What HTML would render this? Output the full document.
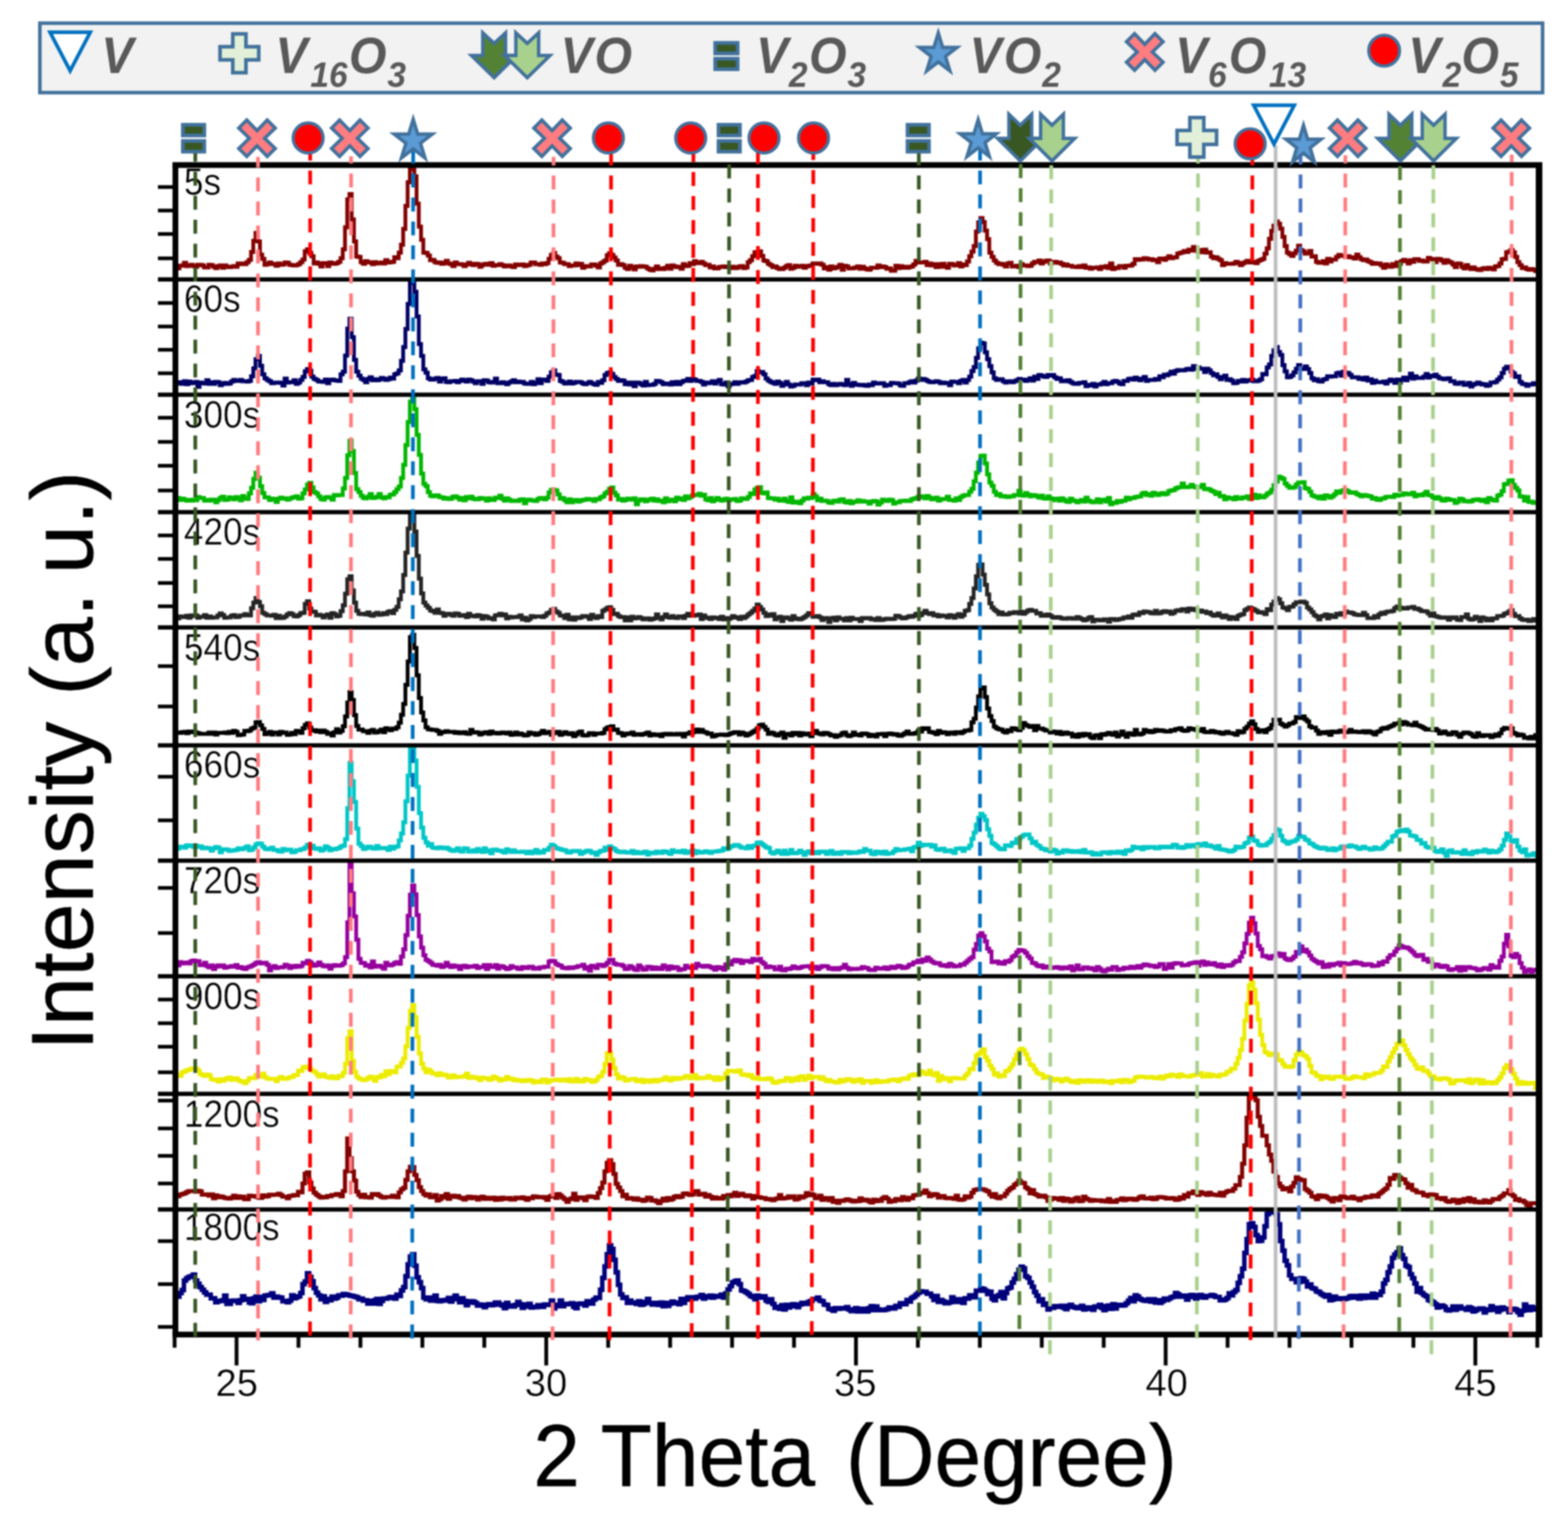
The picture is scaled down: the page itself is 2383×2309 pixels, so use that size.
<!DOCTYPE html>
<html lang="en"><head><meta charset="utf-8"><title>XRD patterns of vanadium oxide phases versus time</title>
<style>html,body{margin:0;padding:0;background:#fff}body{width:2383px;height:2309px;overflow:hidden}svg{display:block}text{font-family:"Liberation Sans",sans-serif}</style>
</head><body>
<svg width="2383" height="2309" viewBox="0 0 2383 2309">
<defs><filter id="soft" x="0" y="0" width="2383" height="2309" filterUnits="userSpaceOnUse" color-interpolation-filters="sRGB"><feGaussianBlur stdDeviation="0.9"/></filter></defs>
<rect width="2383" height="2309" fill="#fff"/>
<g filter="url(#soft)">
<rect width="2383" height="2309" fill="#fff"/>
<g id="legend">
<rect x="60.6" y="35.2" width="2283.8" height="105.6" fill="#f2f2f2" stroke="#41719c" stroke-width="5.4"/>
<polygon points="76,49 137.2,49 106.6,107.6" fill="#fff" stroke="#0070c0" stroke-width="5.5" stroke-linejoin="miter"/>
<polygon points="353.8,51.6 373.8,51.6 373.8,71 393.2,71 393.2,91 373.8,91 373.8,110.4 353.8,110.4 353.8,91 334.4,91 334.4,71 353.8,71" fill="#e2f0d9" stroke="#41719c" stroke-width="5.5" stroke-linejoin="miter"/>
<polygon points="733.7,50 751,66 768.3,50 768.3,84.3 785.5,84.3 751,118 716.5,84.3 733.7,84.3" fill="#548235" stroke="#41719c" stroke-width="5.2" stroke-linejoin="miter"/>
<polygon points="784,50 801.3,66 818.6,50 818.6,84.3 835.8,84.3 801.3,118 766.8,84.3 784,84.3" fill="#a9d18e" stroke="#41719c" stroke-width="5.2" stroke-linejoin="miter"/>
<rect x="1087" y="65.2" width="34" height="16" fill="#385723" stroke="#41719c" stroke-width="5.6"/><rect x="1087" y="89.2" width="34" height="16" fill="#385723" stroke="#41719c" stroke-width="5.6"/>
<polygon points="1426,50.2 1432.73,72.16 1454.5,72.16 1436.89,85.74 1443.62,107.7 1426,94.13 1408.38,107.7 1415.11,85.74 1397.5,72.16 1419.27,72.16" fill="#5b9bd5" stroke="#41719c" stroke-width="5.2" stroke-linejoin="miter"/>
<polygon points="1739.8,67.4 1755.3,51.3 1767.5,63.5 1751.4,79 1767.5,94.5 1755.3,106.7 1739.8,90.6 1724.3,106.7 1712.1,94.5 1728.2,79 1712.1,63.5 1724.3,51.3" fill="#ff7c80" stroke="#41719c" stroke-width="5.2" stroke-linejoin="miter"/>
<circle cx="2103.6" cy="77" r="23.4" fill="#ff0000" stroke="#41719c" stroke-width="4.8"/>
<text transform="scale(0.94,1)" font-weight="bold" font-style="italic" fill="#595959"><tspan x="163.83" y="110.6" font-size="78">V</tspan></text>
<text transform="scale(0.94,1)" font-weight="bold" font-style="italic" fill="#595959"><tspan x="445.11" y="110.6" font-size="78">V</tspan><tspan x="501.91" y="132.4" font-size="54">16</tspan><tspan x="564.04" y="110.6" font-size="78">O</tspan><tspan x="626.38" y="132.4" font-size="54">3</tspan></text>
<text transform="scale(0.94,1)" font-weight="bold" font-style="italic" fill="#595959"><tspan x="906.28" y="110.6" font-size="78">V</tspan><tspan x="961.06" y="110.6" font-size="78">O</tspan></text>
<text transform="scale(0.94,1)" font-weight="bold" font-style="italic" fill="#595959"><tspan x="1222.23" y="110.6" font-size="78">V</tspan><tspan x="1275.43" y="132.4" font-size="54">2</tspan><tspan x="1308.09" y="110.6" font-size="78">O</tspan><tspan x="1370.21" y="132.4" font-size="54">3</tspan></text>
<text transform="scale(0.94,1)" font-weight="bold" font-style="italic" fill="#595959"><tspan x="1567.45" y="110.6" font-size="78">V</tspan><tspan x="1622.98" y="110.6" font-size="78">O</tspan><tspan x="1685" y="132.4" font-size="54">2</tspan></text>
<text transform="scale(0.94,1)" font-weight="bold" font-style="italic" fill="#595959"><tspan x="1900" y="110.6" font-size="78">V</tspan><tspan x="1953.3" y="132.4" font-size="54">6</tspan><tspan x="1986.7" y="110.6" font-size="78">O</tspan><tspan x="2051.6" y="132.4" font-size="54">13</tspan></text>
<text transform="scale(0.94,1)" font-weight="bold" font-style="italic" fill="#595959"><tspan x="2276.81" y="110.6" font-size="78">V</tspan><tspan x="2332.55" y="132.4" font-size="54">2</tspan><tspan x="2362.87" y="110.6" font-size="78">O</tspan><tspan x="2425.11" y="132.4" font-size="54">5</tspan></text>
</g>
<g id="curves" fill="none" stroke-width="5.8" stroke-linejoin="miter" stroke-linecap="butt">
<path d="M269.3,408.0H272.7V404.0H276.1V403.5H279.5V399.5H282.9V404.5H286.3V403.5H289.7V402.5H293.1V404.5H296.5V405.5H299.9V402.5H303.3H306.7V403.5H310.1V406.5H313.5H316.9V402.5H320.3V403.0H323.7V405.5H327.1V407.5H330.5V404.5H333.9V403.5H337.3V407.0H340.7V403.5H344.1V405.5H347.5V406.0H350.9V405.5H354.3V404.5H357.7V405.5H361.1V400.5H364.5V401.5H367.9V400.5H371.3V401.5H374.7V398.5H378.1V395.0H381.5V383.0H384.9V366.0H388.3V354.0H391.7V367.0H395.1V387.0H398.5V393.5H401.9V402.5H405.3V401.5H408.7V399.0H412.1V401.0H415.5V401.5H418.9V404.0H422.3V400.5H425.7V402.5H429.1V402.0H432.5V399.0H435.9V399.5H439.3V402.5H442.7V403.0H446.1V403.5H449.5V403.0H452.9V401.5H456.3V398.5H459.7V394.5H463.1V382.0H466.5V379.0H469.9V384.5H473.3V389.5H476.7V400.5H480.1V399.0H483.5V401.0H486.9V405.0H490.3V400.0H493.7H497.1V404.5H500.5V399.0H503.9V400.5H507.3V401.0H510.7V400.0H514.1V398.0H517.5V392.5H520.9V379.0H524.3V345.5H527.7V303.0H531.1V295.0H534.5V333.5H537.9V367.0H541.3V390.0H544.7V390.5H548.1V398.5H551.5V401.0H554.9V397.0H558.3V398.5H561.7V399.0H565.1V401.5H568.5V398.5H571.9V400.5H575.3V400.0H578.7V399.0H582.1V400.5H585.5V395.5H588.9V399.0H592.3V398.5H595.7V398.0H599.1V391.0H602.5V392.5H605.9V384.0H609.3V372.0H612.7V348.0H616.1V313.0H619.5V277.0H622.9V257.0H626.3H629.7V268.0H633.1V309.5H636.5V344.5H639.9V364.5H643.3V384.0H646.7V384.5H650.1V388.5H653.5V395.5H656.9V395.0H660.3V398.5H663.7V399.5H667.1V399.0H670.5V401.0H673.9V400.0H677.3V396.5H680.7V400.5H684.1V401.5H687.5V404.5H690.9V399.0H694.3V401.5H697.7H701.1V402.0H704.5V404.5H707.9V402.0H711.3V399.5H714.7V401.5H718.1V403.0H721.5V401.0H724.9V401.5H728.3V405.5H731.7V403.0H735.1V401.5H738.5V401.0H741.9V402.5H745.3V400.0H748.7V404.0H752.1V403.0H755.5H758.9V401.5H762.3V403.0H765.7V405.0H769.1V404.0H772.5V403.5H775.9V405.0H779.3V406.0H782.7V402.0H786.1V403.0H789.5V402.5H792.9V402.0H796.3V404.5H799.7V403.5H803.1V402.5H806.5V399.0H809.9H813.3V401.5H816.7H820.1V402.5H823.5V400.5H826.9V401.5H830.3V400.0H833.7V393.5H837.1V387.5H840.5V384.5H843.9V390.0H847.3V392.5H850.7V399.0H854.1V399.5H857.5V401.5H860.9H864.3V404.5H867.7V403.5H871.1H874.5V400.5H877.9V403.0H881.3V401.0H884.7V407.0H888.1V404.5H891.5V405.0H894.9H898.3V402.0H901.7H905.1V404.0H908.5V406.5H911.9V400.5H915.3V398.5H918.7V396.0H922.1V388.0H925.5V385.0H928.9V387.5H932.3V391.5H935.7V396.0H939.1V402.5H942.5V401.5H945.9V403.0H949.3V407.0H952.7V409.0H956.1V404.0H959.5V406.5H962.9V409.5H966.3V405.0H969.7V405.5H973.1V404.5H976.5V405.0H979.9V405.5H983.3V408.0H986.7V410.0H990.1V411.0H993.5V408.5H996.9V405.0H1000.3V409.0H1003.7V408.0H1007.1V409.0H1010.5V407.0H1013.9V404.0H1017.3V408.5H1020.7V403.5H1024.1V405.0H1027.5V406.0H1030.9V405.5H1034.3V408.5H1037.7V401.5H1041.1V404.5H1044.5V404.0H1047.9V400.0H1051.3V401.5H1054.7V397.0H1058.1V400.0H1061.5V399.5H1064.9V398.0H1068.3V400.5H1071.7V403.0H1075.1V402.5H1078.5V406.5H1081.9V405.0H1085.3V408.0H1088.7H1092.1V406.0H1095.5V405.5H1098.9V405.0H1102.3V406.0H1105.7H1109.1V407.5H1112.5V405.5H1115.9V407.5H1119.3V407.0H1122.7V405.0H1126.1V404.5H1129.5V407.5H1132.9V406.5H1136.3V398.5H1139.7V395.5H1143.1V389.5H1146.5V383.5H1149.9V383.0H1153.3V382.0H1156.7V389.0H1160.1V396.0H1163.5V397.0H1166.9V401.0H1170.3V403.0H1173.7V406.0H1177.1V405.0H1180.5V407.5H1183.9V409.0H1187.3H1190.7V407.0H1194.1V404.5H1197.5V403.0H1200.9V408.5H1204.3V407.0H1207.7V404.0H1211.1V405.5H1214.5V405.0H1217.9V404.0H1221.3V407.0H1224.7V405.0H1228.1V404.0H1231.5V403.5H1234.9V400.5H1238.3H1241.7V401.0H1245.1V400.5H1248.5V402.5H1251.9V408.0H1255.3V406.0H1258.7V410.0H1262.1V405.0H1265.5V408.0H1268.9V407.0H1272.3V405.5H1275.7V402.5H1279.1V410.0H1282.5V404.0H1285.9V405.0H1289.3V408.0H1292.7H1296.1V407.5H1299.5V406.5H1302.9V405.0H1306.3V408.5H1309.7V405.5H1313.1V408.0H1316.5V409.5H1319.9V410.0H1323.3V407.0H1326.7H1330.1H1333.5V403.5H1336.9V406.0H1340.3V405.0H1343.7V406.0H1347.1V408.5H1350.5V408.0H1353.9V411.5H1357.3H1360.7V404.0H1364.1V407.5H1367.5V404.5H1370.9V407.0H1374.3V405.5H1377.7V407.0H1381.1V406.0H1384.5V405.0H1387.9V402.0H1391.3V396.5H1394.7V399.0H1398.1H1401.5H1404.9V398.0H1408.3V403.0H1411.7V400.5H1415.1V403.5H1418.5V401.5H1421.9V406.0H1425.3V401.5H1428.7V405.5H1432.1V401.0H1435.5V405.0H1438.9V407.0H1442.3V401.0H1445.7V401.5H1449.1V403.5H1452.5V403.0H1455.9V400.0H1459.3V405.0H1462.7V402.0H1466.1V403.0H1469.5V397.5H1472.9V389.5H1476.3V382.5H1479.7V374.0H1483.1V352.0H1486.5V338.0H1489.9V331.5H1493.3V337.5H1496.7V350.5H1500.1V363.5H1503.5V384.0H1506.9V390.5H1510.3V396.0H1513.7V399.5H1517.1V401.5H1520.5V401.0H1523.9V402.5H1527.3V405.0H1530.7V400.5H1534.1V399.5H1537.5V405.0H1540.9H1544.3V404.0H1547.7V406.0H1551.1V401.5H1554.5V403.5H1557.9H1561.3V404.5H1564.7V404.0H1568.1V400.5H1571.5V398.0H1574.9V398.5H1578.3V396.0H1581.7V400.5H1585.1V398.0H1588.5V396.5H1591.9V396.0H1595.3V400.5H1598.7V398.0H1602.1H1605.5V399.5H1608.9V399.0H1612.3V401.0H1615.7V403.5H1619.1V402.0H1622.5V404.0H1625.9H1629.3V405.5H1632.7H1636.1V406.0H1639.5V404.5H1642.9V406.0H1646.3V403.5H1649.7V407.0H1653.1V406.5H1656.5V408.5H1659.9V407.0H1663.3H1666.7V406.5H1670.1V409.0H1673.5V405.5H1676.9V406.5H1680.3V404.5H1683.7V407.5H1687.1V400.5H1690.5V409.0H1693.9V407.0H1697.3V407.5H1700.7V404.5H1704.1H1707.5V407.0H1710.9V404.0H1714.3H1717.7V403.5H1721.1V401.0H1724.5V394.0H1727.9V395.0H1731.3V394.0H1734.7V394.5H1738.1V392.5H1741.5V393.0H1744.9V394.5H1748.3V394.0H1751.7V395.5H1755.1V395.0H1758.5V398.5H1761.9V393.0H1765.3H1768.7V395.0H1772.1V392.5H1775.5V389.5H1778.9V392.5H1782.3V391.5H1785.7V391.0H1789.1V385.5H1792.5V384.5H1795.9V383.5H1799.3V381.5H1802.7V383.0H1806.1V379.5H1809.5V381.0H1812.9V375.5H1816.3V380.5H1819.7V382.5H1823.1V380.0H1826.5V383.5H1829.9V379.5H1833.3V384.0H1836.7V383.5H1840.1V390.0H1843.5V392.5H1846.9V391.0H1850.3V393.5H1853.7V395.5H1857.1V403.0H1860.5V400.0H1863.9V401.0H1867.3H1870.7H1874.1V400.5H1877.5V398.0H1880.9V399.5H1884.3V403.0H1887.7V400.5H1891.1V398.5H1894.5V396.5H1897.9V399.0H1901.3H1904.7V398.0H1908.1V400.0H1911.5V396.5H1914.9V395.0H1918.3V393.5H1921.7V385.5H1925.1V377.5H1928.5V363.0H1931.9V351.0H1935.3V343.0H1938.7V336.5H1942.1V340.0H1945.5V347.5H1948.9V360.0H1952.3V374.0H1955.7V384.0H1959.1V386.5H1962.5V389.0H1965.9V385.0H1969.3V381.0H1972.7V373.5H1976.1V380.0H1979.5V382.0H1982.9V385.5H1986.3V385.0H1989.7V381.5H1993.1V390.0H1996.5V389.5H1999.9V398.0H2003.3V399.5H2006.7H2010.1V397.0H2013.5V400.5H2016.9V393.5H2020.3V397.5H2023.7V394.5H2027.1H2030.5V390.5H2033.9V387.5H2037.3V388.5H2040.7V389.0H2044.1V391.0H2047.5V389.5H2050.9V391.0H2054.3V391.5H2057.7V393.0H2061.1V387.0H2064.5V391.0H2067.9V394.0H2071.3V395.5H2074.7V394.5H2078.1V397.0H2081.5V398.5H2084.9V401.0H2088.3V400.0H2091.7V401.0H2095.1V400.5H2098.5V403.5H2101.9V407.0H2105.3V402.0H2108.7V404.5H2112.1V405.5H2115.5V401.5H2118.9V404.5H2122.3V399.0H2125.7V401.0H2129.1V397.0H2132.5V395.0H2135.9V397.0H2139.3V400.5H2142.7V395.5H2146.1V398.0H2149.5V394.0H2152.9H2156.3V396.5H2159.7V396.0H2163.1V397.5H2166.5H2169.9V392.0H2173.3V393.5H2176.7V394.5H2180.1V398.5H2183.5V393.5H2186.9V394.0H2190.3V396.0H2193.7V399.5H2197.1V395.5H2200.5V397.5H2203.9V399.0H2207.3V402.0H2210.7V406.0H2214.1V400.5H2217.5V401.0H2220.9V405.5H2224.3V408.0H2227.7V403.0H2231.1V406.5H2234.5V409.0H2237.9V406.5H2241.3V409.0H2244.7V410.0H2248.1V410.5H2251.5V408.5H2254.9V407.5H2258.3V409.0H2261.7V407.0H2265.1V408.0H2268.5V409.5H2271.9V405.0H2275.3V404.5H2278.7V400.5H2282.1V394.0H2285.5V393.5H2288.9V383.5H2292.3V382.5H2295.7V380.0H2299.1V383.5H2302.5V390.5H2305.9V398.5H2309.3V403.0H2312.7V407.5H2316.1V406.5H2319.5V409.0H2322.9V410.0H2326.3V409.0H2329.7V410.0H2333.1V412.0H2334.5" stroke="#820000"/>
<path d="M269.3,583.0H272.7V581.0H276.1V583.5H279.5V579.5H282.9V584.0H286.3V580.0H289.7V582.5H293.1V582.0H296.5V580.5H299.9V588.0H303.3V581.5H306.7V582.5H310.1V583.0H313.5V578.0H316.9V583.5H320.3V581.0H323.7V583.5H327.1V580.5H330.5V581.0H333.9V585.5H337.3V583.5H340.7V582.0H344.1V583.5H347.5V583.0H350.9V580.0H354.3V577.5H357.7V579.0H361.1H364.5V577.5H367.9V579.5H371.3H374.7V580.0H378.1V579.0H381.5V572.0H384.9V560.0H388.3V546.0H391.7V541.0H395.1V556.0H398.5V569.0H401.9V575.0H405.3V577.5H408.7V579.5H412.1V582.5H415.5V582.0H418.9V581.5H422.3H425.7V582.0H429.1V586.0H432.5V575.5H435.9V581.5H439.3V581.0H442.7H446.1V578.0H449.5V583.5H452.9V581.5H456.3V577.5H459.7V573.0H463.1V564.5H466.5V561.0H469.9V563.5H473.3V572.5H476.7V576.0H480.1V577.5H483.5V580.0H486.9H490.3V580.5H493.7V577.0H497.1V582.5H500.5V577.5H503.9V577.0H507.3V578.0H510.7V578.5H514.1V579.0H517.5V569.0H520.9V565.0H524.3V540.5H527.7V499.5H531.1V484.5H534.5V512.5H537.9V547.0H541.3V565.0H544.7V571.0H548.1V575.5H551.5V577.5H554.9V581.0H558.3V576.0H561.7V573.5H565.1V578.0H568.5V576.5H571.9V578.0H575.3V577.0H578.7V574.5H582.1V575.5H585.5V577.5H588.9V576.5H592.3V574.0H595.7V575.5H599.1V569.0H602.5V567.5H605.9V563.0H609.3V548.5H612.7V527.5H616.1V500.0H619.5V462.0H622.9V430.0H626.3V429.5H629.7V443.5H633.1V481.0H636.5V523.0H639.9V541.0H643.3V561.5H646.7V566.5H650.1V575.0H653.5V577.0H656.9H660.3V575.5H663.7V574.5H667.1V580.0H670.5V576.0H673.9V575.0H677.3V580.5H680.7V581.0H684.1V579.5H687.5H690.9V579.0H694.3V581.0H697.7V579.0H701.1V577.0H704.5V578.5H707.9V580.0H711.3V577.0H714.7V578.0H718.1V580.0H721.5V582.5H724.9V579.5H728.3H731.7V583.5H735.1V578.0H738.5V578.5H741.9V581.0H745.3V581.5H748.7V580.5H752.1V575.5H755.5V582.5H758.9H762.3V581.0H765.7V582.0H769.1V584.0H772.5V581.5H775.9V580.0H779.3V578.0H782.7V581.0H786.1V580.0H789.5V581.0H792.9V580.5H796.3V583.0H799.7V583.5H803.1H806.5V580.5H809.9V584.0H813.3V582.0H816.7V576.5H820.1V582.5H823.5V577.0H826.9H830.3V579.0H833.7V572.5H837.1V566.0H840.5V563.0H843.9V569.5H847.3V570.0H850.7V579.0H854.1V580.5H857.5V583.0H860.9V582.5H864.3V580.0H867.7V583.0H871.1V582.0H874.5V580.5H877.9H881.3V581.0H884.7V583.0H888.1V584.0H891.5V582.5H894.9V580.5H898.3V582.5H901.7V584.0H905.1V585.0H908.5V580.5H911.9V582.0H915.3V578.0H918.7V570.0H922.1V567.0H925.5V566.0H928.9V568.5H932.3V573.0H935.7V576.0H939.1V579.0H942.5V578.0H945.9V578.5H949.3V584.0H952.7V581.5H956.1V584.5H959.5V581.5H962.9V587.0H966.3V581.5H969.7V582.0H973.1V584.0H976.5V586.0H979.9V580.5H983.3V585.5H986.7V585.0H990.1H993.5V583.5H996.9V579.0H1000.3V579.5H1003.7V581.0H1007.1V584.0H1010.5V583.0H1013.9H1017.3V584.5H1020.7V581.0H1024.1V584.0H1027.5V580.5H1030.9V584.0H1034.3V581.0H1037.7V579.0H1041.1V578.5H1044.5V576.0H1047.9V579.0H1051.3V576.0H1054.7V577.0H1058.1V579.0H1061.5H1064.9V580.5H1068.3V584.5H1071.7V581.5H1075.1V582.5H1078.5V581.5H1081.9V579.5H1085.3V583.0H1088.7V580.0H1092.1V577.5H1095.5V584.0H1098.9V584.5H1102.3V581.5H1105.7V587.0H1109.1V584.0H1112.5V583.5H1115.9V581.0H1119.3V583.5H1122.7V581.5H1126.1V581.0H1129.5V581.5H1132.9V580.0H1136.3V578.0H1139.7V577.5H1143.1V573.0H1146.5V571.5H1149.9V564.0H1153.3V566.0H1156.7V565.5H1160.1V569.0H1163.5V575.5H1166.9V578.5H1170.3V580.5H1173.7V582.0H1177.1V583.5H1180.5V580.0H1183.9V582.0H1187.3V586.5H1190.7V584.0H1194.1V580.5H1197.5V584.5H1200.9V587.5H1204.3V586.5H1207.7V584.5H1211.1H1214.5H1217.9V582.5H1221.3H1224.7V585.5H1228.1V581.5H1231.5V583.0H1234.9V577.0H1238.3V578.0H1241.7V577.0H1245.1V581.0H1248.5V579.5H1251.9V581.0H1255.3H1258.7V584.0H1262.1V585.5H1265.5V583.5H1268.9V585.5H1272.3V584.5H1275.7V583.5H1279.1V584.5H1282.5V585.5H1285.9V577.5H1289.3V584.0H1292.7V586.5H1296.1V582.0H1299.5V584.5H1302.9V585.0H1306.3V585.5H1309.7V585.0H1313.1V586.0H1316.5V586.5H1319.9V584.5H1323.3V585.5H1326.7V581.5H1330.1V583.0H1333.5H1336.9V582.5H1340.3H1343.7V586.5H1347.1V585.0H1350.5V585.5H1353.9V582.0H1357.3V582.5H1360.7H1364.1V583.0H1367.5V586.0H1370.9V586.5H1374.3V582.5H1377.7H1381.1V581.0H1384.5V579.5H1387.9V581.5H1391.3V578.5H1394.7V575.5H1398.1V577.5H1401.5V576.0H1404.9V577.0H1408.3V579.0H1411.7V580.5H1415.1V581.0H1418.5V580.5H1421.9V579.5H1425.3V580.5H1428.7V582.5H1432.1V581.5H1435.5V582.5H1438.9V582.0H1442.3V585.5H1445.7V580.0H1449.1V580.5H1452.5H1455.9V582.5H1459.3V579.0H1462.7V577.5H1466.1V581.5H1469.5V577.5H1472.9V572.5H1476.3V564.0H1479.7V558.0H1483.1V544.0H1486.5V529.5H1489.9V521.0H1493.3V522.0H1496.7V535.5H1500.1V546.0H1503.5V556.5H1506.9V566.0H1510.3V575.0H1513.7V577.5H1517.1V576.5H1520.5H1523.9V579.5H1527.3V581.5H1530.7V580.0H1534.1V579.5H1537.5V581.0H1540.9V579.5H1544.3V578.0H1547.7V576.0H1551.1V577.5H1554.5V577.0H1557.9V579.0H1561.3V577.5H1564.7V575.0H1568.1V578.5H1571.5V572.5H1574.9V576.0H1578.3V570.0H1581.7V571.0H1585.1V572.5H1588.5V573.0H1591.9V570.0H1595.3V571.0H1598.7V570.0H1602.1V573.5H1605.5V576.0H1608.9V575.0H1612.3V579.5H1615.7V578.5H1619.1V579.5H1622.5V578.0H1625.9V580.5H1629.3V582.5H1632.7V583.5H1636.1H1639.5V582.0H1642.9H1646.3V581.0H1649.7V587.0H1653.1V585.0H1656.5V586.0H1659.9V583.5H1663.3V587.5H1666.7V584.5H1670.1H1673.5V583.0H1676.9V580.5H1680.3V584.0H1683.7V582.5H1687.1H1690.5V580.0H1693.9V579.0H1697.3V580.5H1700.7V583.0H1704.1V584.0H1707.5V579.0H1710.9H1714.3V576.0H1717.7V575.5H1721.1V577.0H1724.5V574.0H1727.9V576.0H1731.3V578.0H1734.7V575.5H1738.1V573.0H1741.5V579.0H1744.9V577.5H1748.3H1751.7H1755.1V576.0H1758.5V577.0H1761.9V572.0H1765.3V573.5H1768.7V569.5H1772.1V570.5H1775.5V568.5H1778.9V565.0H1782.3V568.0H1785.7V564.0H1789.1V562.5H1792.5V563.0H1795.9H1799.3V562.5H1802.7V561.0H1806.1V560.5H1809.5V562.0H1812.9V556.5H1816.3V560.5H1819.7V558.5H1823.1V560.5H1826.5H1829.9V565.5H1833.3V560.5H1836.7V563.0H1840.1V567.0H1843.5V570.5H1846.9V569.0H1850.3V573.0H1853.7V576.5H1857.1V573.5H1860.5V571.0H1863.9V577.5H1867.3V576.5H1870.7V578.5H1874.1V582.5H1877.5V582.0H1880.9V579.0H1884.3V580.0H1887.7V577.5H1891.1V580.0H1894.5V578.0H1897.9V578.5H1901.3V577.0H1904.7V579.5H1908.1H1911.5V578.5H1914.9V576.5H1918.3V568.5H1921.7V569.0H1925.1V558.5H1928.5V554.0H1931.9V541.0H1935.3V532.5H1938.7V527.5H1942.1V535.0H1945.5V539.5H1948.9V555.0H1952.3V564.5H1955.7V573.5H1959.1V573.0H1962.5V570.5H1965.9V566.0H1969.3V560.5H1972.7V555.0H1976.1V561.0H1979.5V560.5H1982.9V557.0H1986.3V561.0H1989.7V567.0H1993.1V575.0H1996.5V578.0H1999.9V576.5H2003.3V579.5H2006.7V580.0H2010.1V577.0H2013.5V576.0H2016.9V572.0H2020.3V572.5H2023.7V572.0H2027.1H2030.5V567.5H2033.9V566.5H2037.3V571.0H2040.7V565.0H2044.1V566.5H2047.5V567.0H2050.9V570.0H2054.3V573.5H2057.7H2061.1H2064.5V576.0H2067.9V574.5H2071.3V577.0H2074.7V574.0H2078.1V578.5H2081.5V576.5H2084.9V582.0H2088.3V578.5H2091.7V581.0H2095.1H2098.5H2101.9V580.0H2105.3V583.0H2108.7V579.5H2112.1V577.0H2115.5V578.5H2118.9V582.0H2122.3V577.0H2125.7V581.5H2129.1V577.0H2132.5V574.0H2135.9V578.0H2139.3V574.0H2142.7V568.0H2146.1V575.5H2149.5V572.0H2152.9V574.5H2156.3H2159.7H2163.1V572.5H2166.5V568.5H2169.9V574.0H2173.3V571.0H2176.7V572.0H2180.1V569.5H2183.5V572.5H2186.9V575.0H2190.3V575.5H2193.7V576.5H2197.1V575.5H2200.5V575.0H2203.9V579.5H2207.3H2210.7V583.0H2214.1V583.5H2217.5V581.5H2220.9H2224.3V585.0H2227.7V584.5H2231.1V582.0H2234.5V587.5H2237.9V584.5H2241.3V583.5H2244.7V581.5H2248.1V583.0H2251.5V584.5H2254.9V584.0H2258.3V586.5H2261.7V585.5H2265.1V581.5H2268.5H2271.9V580.5H2275.3V577.0H2278.7V573.5H2282.1V567.0H2285.5V560.5H2288.9V557.5H2292.3V559.0H2295.7V565.0H2299.1V567.5H2302.5V573.0H2305.9V572.0H2309.3V580.5H2312.7V583.5H2316.1V584.0H2319.5V586.5H2322.9V584.5H2326.3H2329.7V582.5H2333.1V584.0H2334.5" stroke="#000064"/>
<path d="M269.3,757.0H272.7V760.0H276.1V758.0H279.5V759.5H282.9V761.0H286.3V760.0H289.7V761.0H293.1V759.5H296.5V760.5H299.9V755.5H303.3V757.0H306.7H310.1V761.0H313.5V760.0H316.9V761.0H320.3V759.5H323.7H327.1V763.5H330.5V760.0H333.9V757.0H337.3V755.0H340.7V760.0H344.1V759.5H347.5V756.0H350.9V757.5H354.3V759.0H357.7V755.5H361.1V757.5H364.5V760.5H367.9V754.0H371.3V757.5H374.7V758.5H378.1V750.0H381.5V741.5H384.9V728.0H388.3V718.5H391.7V726.0H395.1V739.0H398.5V749.5H401.9V756.0H405.3H408.7V760.0H412.1V758.0H415.5V759.0H418.9V763.0H422.3V758.0H425.7V756.5H429.1V758.0H432.5V757.5H435.9V759.5H439.3V758.0H442.7V756.5H446.1V755.5H449.5V754.5H452.9V758.0H456.3V757.5H459.7V750.0H463.1V744.0H466.5V736.5H469.9V734.0H473.3V741.0H476.7V748.0H480.1V750.0H483.5V754.5H486.9V758.5H490.3V759.5H493.7V756.0H497.1V755.5H500.5V756.5H503.9V759.5H507.3V752.5H510.7V753.0H514.1V752.5H517.5H520.9V742.5H524.3V726.5H527.7V692.0H531.1V670.0H534.5V685.5H537.9V719.0H541.3V743.5H544.7V748.0H548.1V753.5H551.5V757.0H554.9V757.5H558.3V755.0H561.7V751.0H565.1V757.0H568.5V756.5H571.9V755.0H575.3V751.0H578.7V756.0H582.1V757.5H585.5V755.5H588.9V756.0H592.3V752.0H595.7V751.5H599.1V748.0H602.5V743.5H605.9V739.5H609.3V726.5H612.7V706.5H616.1V676.5H619.5V641.5H622.9V610.5H626.3V605.0H629.7V622.0H633.1V661.0H636.5V691.5H639.9V720.0H643.3V735.5H646.7V739.0H650.1V748.0H653.5V753.5H656.9V754.5H660.3V753.0H663.7H667.1V755.5H670.5V756.0H673.9V758.0H677.3V757.0H680.7V758.5H684.1V758.0H687.5V755.0H690.9V754.5H694.3V756.5H697.7V759.5H701.1V757.0H704.5V760.5H707.9V755.5H711.3V757.5H714.7V755.0H718.1V758.0H721.5V759.0H724.9H728.3V757.0H731.7V757.5H735.1V758.0H738.5V761.0H741.9V757.5H745.3V759.5H748.7V760.0H752.1V756.5H755.5V757.0H758.9V753.5H762.3V758.0H765.7V761.0H769.1V757.5H772.5V759.5H775.9V761.5H779.3H782.7V761.0H786.1V761.5H789.5V759.5H792.9V759.0H796.3V765.0H799.7V760.5H803.1V759.5H806.5V760.5H809.9V761.0H813.3V761.5H816.7V758.5H820.1V757.0H823.5V757.5H826.9V759.0H830.3V756.5H833.7V748.5H837.1V744.5H840.5H843.9V745.5H847.3V751.5H850.7V758.0H854.1V757.0H857.5V760.5H860.9V763.5H864.3V759.0H867.7V763.5H871.1V761.0H874.5V760.0H877.9V762.5H881.3V761.0H884.7V760.0H888.1V759.5H891.5V758.5H894.9V759.5H898.3V759.0H901.7V761.5H905.1V758.5H908.5V759.0H911.9V756.0H915.3V754.5H918.7V750.0H922.1V747.5H925.5V743.0H928.9V741.0H932.3V749.0H935.7V753.0H939.1V759.5H942.5V758.5H945.9V761.0H949.3V760.0H952.7V758.0H956.1V758.5H959.5V759.5H962.9V757.5H966.3V766.5H969.7V761.0H973.1V759.0H976.5H979.9V762.0H983.3V760.5H986.7V759.0H990.1V758.0H993.5V761.0H996.9V759.0H1000.3V761.5H1003.7V761.0H1007.1V763.5H1010.5V757.5H1013.9V762.0H1017.3V760.0H1020.7V759.5H1024.1V762.0H1027.5V756.5H1030.9V759.0H1034.3V757.5H1037.7V760.0H1041.1V754.5H1044.5V757.5H1047.9V755.5H1051.3V753.0H1054.7V752.5H1058.1H1061.5V750.5H1064.9V753.5H1068.3V752.0H1071.7V759.0H1075.1V760.5H1078.5V757.0H1081.9V762.0H1085.3V760.0H1088.7V757.0H1092.1V759.0H1095.5V761.0H1098.9V759.5H1102.3V758.0H1105.7V760.5H1109.1V759.5H1112.5V759.0H1115.9V758.5H1119.3V761.5H1122.7V761.0H1126.1V757.5H1129.5V758.5H1132.9H1136.3V755.5H1139.7V750.0H1143.1V751.0H1146.5V744.0H1149.9V741.5H1153.3V740.5H1156.7V749.0H1160.1V750.0H1163.5V748.5H1166.9V757.0H1170.3V757.5H1173.7H1177.1V759.5H1180.5V758.0H1183.9V761.0H1187.3H1190.7V758.0H1194.1V761.5H1197.5V763.0H1200.9V756.0H1204.3V764.0H1207.7V762.5H1211.1V763.5H1214.5V765.0H1217.9V761.0H1221.3V757.5H1224.7V758.0H1228.1V756.5H1231.5V757.0H1234.9V751.0H1238.3V754.5H1241.7V760.5H1245.1V758.0H1248.5V761.5H1251.9V761.0H1255.3V761.5H1258.7V764.0H1262.1V764.5H1265.5V761.5H1268.9V761.0H1272.3V762.5H1275.7V759.5H1279.1V759.0H1282.5V763.0H1285.9V764.0H1289.3V761.5H1292.7V765.0H1296.1V763.0H1299.5V762.5H1302.9V760.5H1306.3V762.5H1309.7V761.5H1313.1V762.5H1316.5H1319.9V765.5H1323.3V762.5H1326.7V761.5H1330.1V762.0H1333.5V767.0H1336.9V764.0H1340.3V759.5H1343.7V761.0H1347.1V761.5H1350.5V759.5H1353.9V760.0H1357.3V765.5H1360.7V763.5H1364.1H1367.5V761.5H1370.9H1374.3V761.0H1377.7V761.5H1381.1H1384.5V759.0H1387.9V758.0H1391.3V757.0H1394.7V755.0H1398.1V756.0H1401.5V754.5H1404.9V757.5H1408.3V754.0H1411.7V756.5H1415.1V759.0H1418.5V758.0H1421.9V756.5H1425.3V761.0H1428.7V759.0H1432.1V758.5H1435.5H1438.9V755.0H1442.3V760.0H1445.7H1449.1V761.0H1452.5V757.5H1455.9V760.0H1459.3V755.5H1462.7V753.5H1466.1V752.5H1469.5H1472.9V747.5H1476.3V743.0H1479.7V731.5H1483.1V718.5H1486.5V703.0H1489.9V693.0H1493.3V692.5H1496.7V704.5H1500.1V721.0H1503.5V733.5H1506.9V738.5H1510.3V747.5H1513.7V752.5H1517.1V751.0H1520.5V754.5H1523.9V754.0H1527.3V755.0H1530.7V755.5H1534.1V754.5H1537.5H1540.9V752.5H1544.3H1547.7V746.0H1551.1V753.0H1554.5V753.5H1557.9V749.5H1561.3V752.0H1564.7V754.5H1568.1V752.5H1571.5V753.0H1574.9V754.5H1578.3V756.5H1581.7V753.5H1585.1V757.5H1588.5V758.0H1591.9V754.5H1595.3V757.5H1598.7V760.5H1602.1V758.5H1605.5V758.0H1608.9V761.0H1612.3V757.5H1615.7V759.5H1619.1V762.0H1622.5V763.0H1625.9V758.0H1629.3V760.5H1632.7V761.5H1636.1V763.5H1639.5V761.5H1642.9V760.0H1646.3V762.5H1649.7V756.5H1653.1V761.0H1656.5V762.5H1659.9V763.5H1663.3V762.5H1666.7V759.0H1670.1V763.5H1673.5V760.5H1676.9V759.5H1680.3V762.5H1683.7V757.0H1687.1V766.5H1690.5V764.0H1693.9V764.5H1697.3V761.5H1700.7V763.0H1704.1V761.5H1707.5V761.0H1710.9V756.5H1714.3V759.0H1717.7V757.0H1721.1H1724.5V755.5H1727.9V755.0H1731.3V754.5H1734.7V750.5H1738.1V749.0H1741.5V752.5H1744.9V751.0H1748.3V753.5H1751.7V749.0H1755.1V750.5H1758.5V752.5H1761.9V750.5H1765.3V749.5H1768.7V751.5H1772.1V750.5H1775.5V746.5H1778.9V745.5H1782.3V745.0H1785.7V742.5H1789.1V741.0H1792.5V740.5H1795.9V735.0H1799.3V740.5H1802.7H1806.1V740.0H1809.5V737.0H1812.9V739.5H1816.3V741.0H1819.7V740.0H1823.1V740.5H1826.5V737.0H1829.9V743.5H1833.3V743.0H1836.7V744.0H1840.1V746.0H1843.5V747.5H1846.9V751.0H1850.3V749.0H1853.7V754.5H1857.1V754.0H1860.5V759.0H1863.9V756.0H1867.3V757.5H1870.7V757.0H1874.1V759.0H1877.5V755.5H1880.9V758.0H1884.3H1887.7V756.0H1891.1V756.5H1894.5V754.5H1897.9V758.5H1901.3V756.0H1904.7V752.0H1908.1V757.0H1911.5V753.0H1914.9V756.0H1918.3H1921.7V753.5H1925.1V750.5H1928.5V748.5H1931.9V744.5H1935.3V737.5H1938.7V732.0H1942.1V724.5H1945.5V726.0H1948.9V728.0H1952.3V735.0H1955.7V738.5H1959.1V741.5H1962.5H1965.9V740.5H1969.3V736.5H1972.7V733.5H1976.1H1979.5V733.0H1982.9V742.0H1986.3V743.0H1989.7V747.5H1993.1V753.0H1996.5V754.5H1999.9V755.5H2003.3V757.5H2006.7V754.5H2010.1V758.0H2013.5V753.0H2016.9V754.0H2020.3V756.5H2023.7V754.5H2027.1V751.5H2030.5V747.0H2033.9V749.0H2037.3V746.5H2040.7V745.0H2044.1H2047.5V747.0H2050.9V749.0H2054.3H2057.7V748.5H2061.1V751.0H2064.5V752.5H2067.9V754.5H2071.3V752.5H2074.7V753.0H2078.1V754.0H2081.5V754.5H2084.9V758.0H2088.3V757.0H2091.7V759.5H2095.1V760.0H2098.5V758.0H2101.9V757.5H2105.3V755.5H2108.7V755.0H2112.1H2115.5V755.5H2118.9V752.0H2122.3V753.5H2125.7V752.5H2129.1H2132.5V750.0H2135.9V750.5H2139.3V751.5H2142.7V751.0H2146.1V749.0H2149.5V754.5H2152.9V752.5H2156.3V752.0H2159.7V753.0H2163.1V750.5H2166.5V747.5H2169.9V752.5H2173.3V753.0H2176.7V756.0H2180.1V758.0H2183.5V755.5H2186.9V757.5H2190.3V760.5H2193.7V761.0H2197.1V758.0H2200.5V759.0H2203.9V760.0H2207.3H2210.7V764.5H2214.1V762.5H2217.5V758.0H2220.9V759.0H2224.3V762.0H2227.7V761.5H2231.1V762.5H2234.5V762.0H2237.9V760.0H2241.3V759.5H2244.7V759.0H2248.1V760.5H2251.5V761.5H2254.9V759.5H2258.3V763.5H2261.7V757.0H2265.1V759.0H2268.5V760.5H2271.9V761.0H2275.3V753.5H2278.7V752.0H2282.1V746.5H2285.5V736.0H2288.9V735.5H2292.3V730.5H2295.7V730.0H2299.1V737.0H2302.5V741.5H2305.9V745.5H2309.3V754.5H2312.7V755.0H2316.1V761.0H2319.5V755.5H2322.9V763.0H2326.3V762.5H2329.7V764.5H2333.1V764.0H2334.5" stroke="#00b600"/>
<path d="M269.3,940.0H272.7V937.0H276.1V937.5H279.5V938.0H282.9V936.0H286.3V939.0H289.7V935.5H293.1V936.5H296.5V935.5H299.9V939.0H303.3V937.5H306.7H310.1V935.0H313.5V939.0H316.9V937.0H320.3V939.0H323.7V938.5H327.1H330.5V935.5H333.9V932.5H337.3V935.0H340.7V939.0H344.1V938.5H347.5H350.9V936.0H354.3V935.0H357.7V938.0H361.1V937.5H364.5V935.5H367.9H371.3V933.5H374.7V935.0H378.1V935.5H381.5V924.5H384.9V916.0H388.3V909.0H391.7V915.0H395.1V921.5H398.5V931.5H401.9V933.5H405.3V935.5H408.7H412.1V936.0H415.5V934.5H418.9V939.5H422.3V936.0H425.7V939.5H429.1V939.0H432.5V937.0H435.9V934.0H439.3V932.0H442.7V933.5H446.1V936.5H449.5V937.0H452.9V935.0H456.3V932.0H459.7V931.5H463.1V918.0H466.5V914.0H469.9V925.0H473.3V929.5H476.7V930.0H480.1V935.5H483.5V934.5H486.9V935.5H490.3V938.5H493.7V935.5H497.1V934.0H500.5V939.0H503.9V932.0H507.3V933.5H510.7V937.0H514.1V936.0H517.5V929.0H520.9V920.0H524.3V902.5H527.7V880.5H531.1V876.0H534.5V897.5H537.9V916.0H541.3V928.5H544.7V933.0H548.1V933.5H551.5V933.0H554.9V934.0H558.3V931.0H561.7V935.0H565.1V936.0H568.5V933.0H571.9V931.5H575.3V934.5H578.7V934.0H582.1V932.0H585.5V933.5H588.9V930.0H592.3V929.0H595.7V932.0H599.1V927.0H602.5V922.5H605.9V911.0H609.3V899.0H612.7V874.0H616.1V840.0H619.5V803.5H622.9V783.0H626.3H629.7V808.0H633.1V845.0H636.5V879.5H639.9V902.0H643.3V916.0H646.7V920.5H650.1V924.0H653.5V928.0H656.9V929.0H660.3V931.5H663.7V926.5H667.1V931.5H670.5V932.0H673.9V936.0H677.3V933.5H680.7V933.0H684.1V934.5H687.5V936.0H690.9V932.5H694.3V933.0H697.7V936.0H701.1V935.5H704.5V935.0H707.9V938.0H711.3V933.0H714.7V936.5H718.1V936.0H721.5V937.0H724.9V935.0H728.3V936.0H731.7V940.5H735.1V936.5H738.5V937.5H741.9V940.0H745.3V939.5H748.7V941.5H752.1V935.5H755.5V935.0H758.9V933.0H762.3V935.5H765.7V934.0H769.1V940.0H772.5V937.5H775.9V938.5H779.3V938.0H782.7H786.1V937.5H789.5V935.5H792.9V941.5H796.3V939.0H799.7V943.0H803.1V941.0H806.5V936.5H809.9V938.0H813.3V937.0H816.7H820.1H823.5V938.0H826.9V936.0H830.3V932.5H833.7V931.0H837.1V927.0H840.5V925.5H843.9V929.5H847.3V931.5H850.7V935.5H854.1V936.0H857.5V939.5H860.9V934.5H864.3V941.5H867.7V938.5H871.1V942.0H874.5V938.5H877.9V939.5H881.3V938.5H884.7V936.5H888.1H891.5V937.5H894.9V941.0H898.3V934.5H901.7V938.0H905.1V939.5H908.5V936.5H911.9V938.0H915.3V928.5H918.7V926.5H922.1V924.0H925.5V923.0H928.9V927.0H932.3V933.5H935.7V933.0H939.1V936.5H942.5V938.0H945.9H949.3V943.0H952.7V938.5H956.1V943.0H959.5V937.5H962.9V940.0H966.3V939.5H969.7V938.0H973.1V939.5H976.5V941.5H979.9V940.5H983.3V940.0H986.7V942.0H990.1V941.0H993.5V940.0H996.9V934.0H1000.3V939.0H1003.7V941.5H1007.1V938.0H1010.5V934.0H1013.9V938.0H1017.3V939.0H1020.7V936.5H1024.1V939.0H1027.5V939.5H1030.9V937.0H1034.3H1037.7V939.5H1041.1V936.0H1044.5V933.0H1047.9V936.0H1051.3H1054.7V935.5H1058.1V935.0H1061.5V934.0H1064.9V941.0H1068.3V935.5H1071.7V938.5H1075.1V939.5H1078.5V941.0H1081.9V938.5H1085.3V939.5H1088.7V939.0H1092.1V941.0H1095.5V937.5H1098.9V941.5H1102.3V939.5H1105.7V941.0H1109.1V939.5H1112.5V936.5H1115.9V938.0H1119.3V939.0H1122.7V941.0H1126.1V937.5H1129.5V939.5H1132.9V937.0H1136.3V934.0H1139.7V931.5H1143.1V928.5H1146.5V925.0H1149.9V919.0H1153.3V922.5H1156.7V926.5H1160.1V931.5H1163.5V936.5H1166.9V934.0H1170.3V936.0H1173.7V933.5H1177.1V941.5H1180.5V939.0H1183.9V937.5H1187.3V944.0H1190.7V939.0H1194.1V938.5H1197.5V940.0H1200.9V942.0H1204.3V936.5H1207.7V940.0H1211.1V941.0H1214.5V941.5H1217.9V940.0H1221.3V938.0H1224.7V935.5H1228.1V932.0H1231.5V933.0H1234.9V937.5H1238.3V937.0H1241.7V936.5H1245.1V938.5H1248.5V942.5H1251.9V940.0H1255.3V939.5H1258.7V945.5H1262.1V940.5H1265.5V939.0H1268.9V943.0H1272.3V938.5H1275.7V940.5H1279.1H1282.5V943.0H1285.9V939.5H1289.3V943.0H1292.7V939.0H1296.1V941.0H1299.5H1302.9H1306.3V944.0H1309.7V939.5H1313.1V940.0H1316.5V939.5H1319.9H1323.3V941.5H1326.7V941.0H1330.1V942.5H1333.5V939.5H1336.9V942.5H1340.3V942.0H1343.7V941.0H1347.1V940.5H1350.5V941.0H1353.9H1357.3V940.5H1360.7V936.0H1364.1V936.5H1367.5V938.5H1370.9V940.0H1374.3V939.5H1377.7V938.0H1381.1V936.5H1384.5V937.5H1387.9V936.0H1391.3V933.0H1394.7V936.0H1398.1V935.0H1401.5V932.0H1404.9V928.5H1408.3V932.0H1411.7V933.5H1415.1V932.0H1418.5V935.5H1421.9V934.5H1425.3V937.0H1428.7V935.5H1432.1V936.0H1435.5V936.5H1438.9V938.5H1442.3V935.0H1445.7V936.5H1449.1V939.0H1452.5V935.5H1455.9V933.5H1459.3V937.5H1462.7V935.0H1466.1V928.5H1469.5V927.5H1472.9V918.0H1476.3V909.0H1479.7V894.5H1483.1V876.0H1486.5V858.5H1489.9V858.0H1493.3V873.5H1496.7V889.0H1500.1V903.5H1503.5V917.0H1506.9V923.5H1510.3V927.0H1513.7V929.5H1517.1V933.5H1520.5V931.0H1523.9V934.0H1527.3H1530.7V933.5H1534.1V931.5H1537.5V932.0H1540.9V930.5H1544.3H1547.7V932.5H1551.1V930.0H1554.5V933.0H1557.9V930.5H1561.3V928.0H1564.7V927.0H1568.1V928.5H1571.5H1574.9V932.5H1578.3V932.0H1581.7V936.0H1585.1V934.5H1588.5V936.0H1591.9V934.0H1595.3V936.0H1598.7V938.5H1602.1V939.0H1605.5V938.0H1608.9V938.5H1612.3V940.0H1615.7V940.5H1619.1H1622.5V939.5H1625.9H1629.3V940.5H1632.7H1636.1V938.0H1639.5V939.5H1642.9V941.0H1646.3V943.0H1649.7V942.0H1653.1V939.5H1656.5V938.0H1659.9V944.5H1663.3V942.0H1666.7H1670.1V943.0H1673.5H1676.9V941.5H1680.3V942.0H1683.7V945.0H1687.1V941.0H1690.5H1693.9V942.5H1697.3V942.0H1700.7V941.0H1704.1V940.5H1707.5V938.5H1710.9V939.0H1714.3V937.0H1717.7V939.0H1721.1V934.5H1724.5V934.0H1727.9V935.0H1731.3V931.0H1734.7V932.0H1738.1V929.5H1741.5V930.0H1744.9V930.5H1748.3V932.0H1751.7V932.5H1755.1V928.5H1758.5V932.5H1761.9V932.0H1765.3V930.0H1768.7V929.0H1772.1V930.5H1775.5V929.5H1778.9V933.0H1782.3V931.5H1785.7V928.5H1789.1V927.5H1792.5V928.5H1795.9V926.0H1799.3H1802.7V929.5H1806.1V925.0H1809.5V927.0H1812.9V925.5H1816.3V927.5H1819.7V929.0H1823.1V928.0H1826.5V930.0H1829.9V929.5H1833.3V932.0H1836.7V931.0H1840.1V934.0H1843.5V936.0H1846.9V935.0H1850.3V932.5H1853.7V936.0H1857.1V938.5H1860.5V935.5H1863.9V937.5H1867.3V941.0H1870.7V938.0H1874.1V939.0H1877.5V941.0H1880.9V936.0H1884.3V934.5H1887.7V933.5H1891.1V927.5H1894.5V925.5H1897.9V923.5H1901.3V925.0H1904.7V926.5H1908.1V928.5H1911.5V931.0H1914.9V930.5H1918.3V931.5H1921.7V933.5H1925.1V926.0H1928.5V927.5H1931.9V919.0H1935.3V914.5H1938.7V909.0H1942.1V911.0H1945.5V917.0H1948.9V923.5H1952.3V924.5H1955.7V927.5H1959.1V922.5H1962.5V922.0H1965.9V918.5H1969.3V915.5H1972.7H1976.1V914.5H1979.5H1982.9V916.5H1986.3V923.5H1989.7V926.5H1993.1V930.5H1996.5V935.0H1999.9V937.0H2003.3V941.5H2006.7V937.0H2010.1V936.0H2013.5V934.0H2016.9V940.0H2020.3V935.0H2023.7V937.0H2027.1V938.0H2030.5V933.0H2033.9V934.5H2037.3V932.0H2040.7V934.5H2044.1V929.5H2047.5V931.0H2050.9H2054.3V932.0H2057.7V934.0H2061.1V934.5H2064.5V935.0H2067.9H2071.3V931.5H2074.7V935.0H2078.1V939.5H2081.5H2084.9H2088.3V936.5H2091.7V938.5H2095.1V934.0H2098.5V931.5H2101.9V933.0H2105.3V930.5H2108.7V929.5H2112.1H2115.5V928.5H2118.9V924.5H2122.3V922.0H2125.7V923.5H2129.1V924.0H2132.5V925.0H2135.9H2139.3V923.5H2142.7H2146.1V922.5H2149.5V925.5H2152.9V925.0H2156.3V927.0H2159.7V929.0H2163.1H2166.5V929.5H2169.9V932.5H2173.3V936.0H2176.7V932.5H2180.1V936.5H2183.5V937.5H2186.9V938.5H2190.3V939.0H2193.7V938.5H2197.1V939.0H2200.5V942.0H2203.9V938.5H2207.3V939.5H2210.7V938.5H2214.1V942.0H2217.5V942.5H2220.9V938.0H2224.3H2227.7V934.0H2231.1V940.5H2234.5V942.0H2237.9V941.0H2241.3V937.5H2244.7V939.5H2248.1V944.0H2251.5V938.5H2254.9V940.0H2258.3V943.0H2261.7V940.5H2265.1V943.0H2268.5V940.0H2271.9H2275.3V936.5H2278.7H2282.1V936.0H2285.5V933.0H2288.9V932.0H2292.3V929.5H2295.7V927.5H2299.1V933.0H2302.5V936.5H2305.9H2309.3V940.0H2312.7V942.0H2316.1V942.5H2319.5V942.0H2322.9V944.0H2326.3V943.5H2329.7V941.0H2333.1V943.5H2334.5" stroke="#242424"/>
<path d="M269.3,1113.5H272.7V1114.0H276.1V1113.0H279.5V1112.5H282.9V1114.5H286.3V1112.0H289.7V1113.0H293.1V1112.0H296.5V1113.5H299.9V1114.5H303.3V1115.5H306.7H310.1H313.5H316.9V1113.5H320.3V1115.5H323.7V1113.5H327.1V1116.5H330.5V1114.0H333.9H337.3H340.7V1113.5H344.1V1114.5H347.5V1112.5H350.9V1114.0H354.3V1111.0H357.7V1112.5H361.1V1117.5H364.5V1117.0H367.9V1116.5H371.3V1111.0H374.7V1111.5H378.1V1110.5H381.5V1107.5H384.9V1106.0H388.3V1098.0H391.7V1097.5H395.1V1102.5H398.5V1108.0H401.9V1116.0H405.3V1114.5H408.7V1112.5H412.1V1116.5H415.5V1113.5H418.9H422.3V1116.5H425.7V1112.5H429.1V1114.0H432.5V1113.5H435.9V1117.0H439.3V1116.5H442.7V1114.0H446.1V1116.0H449.5V1111.0H452.9V1112.0H456.3V1114.0H459.7V1107.0H463.1V1102.0H466.5V1099.5H469.9V1106.0H473.3V1110.5H476.7V1110.0H480.1V1112.0H483.5V1110.5H486.9V1113.0H490.3V1110.5H493.7V1112.5H497.1V1115.5H500.5V1114.5H503.9V1118.0H507.3V1113.0H510.7V1108.5H514.1V1113.5H517.5V1111.0H520.9V1104.0H524.3V1089.0H527.7V1068.0H531.1V1052.0H534.5V1064.0H537.9V1087.0H541.3V1103.5H544.7V1109.0H548.1H551.5V1111.5H554.9H558.3V1114.0H561.7V1111.0H565.1V1109.5H568.5V1113.5H571.9V1113.0H575.3V1111.0H578.7V1109.0H582.1V1113.0H585.5V1107.0H588.9V1108.5H592.3V1110.0H595.7V1107.5H599.1V1108.0H602.5V1105.5H605.9V1098.5H609.3V1086.5H612.7V1070.0H616.1V1041.0H619.5V1005.5H622.9V968.5H626.3V965.0H629.7V985.0H633.1V1026.5H636.5V1061.0H639.9V1083.0H643.3V1095.0H646.7V1105.5H650.1V1108.5H653.5V1109.0H656.9V1109.5H660.3H663.7V1111.0H667.1V1115.5H670.5V1113.0H673.9V1112.5H677.3V1111.5H680.7V1112.5H684.1H687.5H690.9V1114.0H694.3V1113.0H697.7V1114.5H701.1V1114.0H704.5V1113.0H707.9V1115.0H711.3V1115.5H714.7V1109.5H718.1V1113.5H721.5V1113.0H724.9V1113.5H728.3V1116.5H731.7V1115.0H735.1V1113.5H738.5V1113.0H741.9V1115.5H745.3V1112.0H748.7V1114.5H752.1V1114.0H755.5V1115.0H758.9V1114.5H762.3V1113.5H765.7V1114.0H769.1V1115.0H772.5V1113.5H775.9V1117.0H779.3V1116.0H782.7V1113.5H786.1V1116.5H789.5V1115.0H792.9V1116.5H796.3V1118.0H799.7V1117.5H803.1V1113.5H806.5V1115.5H809.9V1114.5H813.3V1117.0H816.7V1116.0H820.1V1114.0H823.5V1111.0H826.9V1114.5H830.3V1113.5H833.7V1112.5H837.1V1117.0H840.5V1112.5H843.9V1114.5H847.3V1112.5H850.7V1117.0H854.1V1115.5H857.5V1113.0H860.9V1115.0H864.3V1116.0H867.7V1114.5H871.1V1119.0H874.5V1116.5H877.9V1113.5H881.3V1112.0H884.7V1117.5H888.1V1118.0H891.5V1117.5H894.9V1114.5H898.3H901.7V1117.0H905.1V1115.0H908.5H911.9H915.3V1114.0H918.7V1108.5H922.1V1106.0H925.5V1105.0H928.9V1104.0H932.3V1109.5H935.7V1109.0H939.1V1114.0H942.5V1114.5H945.9V1118.0H949.3V1116.0H952.7V1115.0H956.1V1115.5H959.5V1113.5H962.9V1117.0H966.3V1116.0H969.7H973.1V1117.0H976.5V1116.0H979.9V1115.0H983.3V1113.5H986.7V1118.0H990.1V1116.0H993.5V1116.5H996.9V1117.5H1000.3V1116.5H1003.7V1119.0H1007.1V1116.0H1010.5V1115.5H1013.9V1116.5H1017.3V1115.5H1020.7V1116.5H1024.1H1027.5V1115.5H1030.9V1116.5H1034.3V1115.5H1037.7V1119.5H1041.1V1115.5H1044.5V1115.0H1047.9V1113.0H1051.3V1113.5H1054.7V1112.0H1058.1V1109.0H1061.5V1112.5H1064.9V1109.5H1068.3V1112.5H1071.7V1113.5H1075.1V1115.5H1078.5V1115.0H1081.9V1119.5H1085.3V1118.5H1088.7V1117.0H1092.1H1095.5V1116.5H1098.9V1117.0H1102.3V1117.5H1105.7V1116.5H1109.1V1115.0H1112.5V1114.0H1115.9V1113.0H1119.3H1122.7V1116.5H1126.1V1113.5H1129.5V1115.0H1132.9V1118.0H1136.3V1116.5H1139.7V1114.5H1143.1V1112.5H1146.5V1110.5H1149.9V1107.5H1153.3V1102.5H1156.7V1101.5H1160.1V1105.0H1163.5V1109.0H1166.9V1115.5H1170.3V1113.5H1173.7V1114.5H1177.1V1117.0H1180.5V1118.0H1183.9V1115.5H1187.3V1113.5H1190.7V1121.5H1194.1V1116.0H1197.5V1115.5H1200.9V1118.0H1204.3V1114.0H1207.7V1116.0H1211.1V1114.0H1214.5V1118.0H1217.9V1114.5H1221.3V1116.0H1224.7V1116.5H1228.1V1115.0H1231.5V1119.0H1234.9V1114.5H1238.3V1111.0H1241.7V1114.5H1245.1V1115.5H1248.5V1116.5H1251.9V1114.0H1255.3V1114.5H1258.7V1116.0H1262.1V1118.0H1265.5V1117.5H1268.9V1120.0H1272.3V1118.5H1275.7V1117.5H1279.1V1114.5H1282.5V1113.5H1285.9V1117.5H1289.3V1119.0H1292.7V1117.5H1296.1V1113.5H1299.5V1117.0H1302.9V1116.5H1306.3V1118.0H1309.7V1115.0H1313.1H1316.5V1116.0H1319.9V1119.0H1323.3V1117.0H1326.7V1118.0H1330.1V1119.5H1333.5V1116.0H1336.9H1340.3V1115.5H1343.7V1119.0H1347.1V1116.0H1350.5V1115.0H1353.9V1115.5H1357.3V1116.5H1360.7V1116.0H1364.1V1118.0H1367.5V1118.5H1370.9V1116.5H1374.3V1114.5H1377.7V1112.0H1381.1V1115.5H1384.5H1387.9V1115.0H1391.3V1114.0H1394.7V1111.0H1398.1V1112.0H1401.5V1107.0H1404.9V1108.0H1408.3V1107.0H1411.7V1112.5H1415.1V1113.0H1418.5V1114.0H1421.9V1116.0H1425.3V1111.0H1428.7V1114.0H1432.1V1113.0H1435.5V1113.5H1438.9V1116.0H1442.3V1114.0H1445.7V1113.5H1449.1V1115.5H1452.5V1113.0H1455.9H1459.3V1114.5H1462.7V1112.5H1466.1V1110.5H1469.5H1472.9V1109.5H1476.3V1098.0H1479.7V1092.5H1483.1V1075.5H1486.5V1058.5H1489.9V1046.5H1493.3V1045.0H1496.7V1059.5H1500.1V1077.0H1503.5V1088.5H1506.9V1096.0H1510.3V1104.5H1513.7V1107.0H1517.1V1108.5H1520.5V1109.0H1523.9V1112.0H1527.3V1113.5H1530.7V1110.0H1534.1V1111.5H1537.5V1107.0H1540.9V1107.5H1544.3V1109.0H1547.7V1110.0H1551.1V1106.5H1554.5V1099.0H1557.9V1102.0H1561.3V1103.5H1564.7V1105.0H1568.1V1103.5H1571.5V1110.0H1574.9V1103.5H1578.3V1107.5H1581.7H1585.1V1109.0H1588.5V1110.5H1591.9H1595.3V1113.5H1598.7V1112.0H1602.1V1112.5H1605.5V1115.0H1608.9V1112.5H1612.3V1116.0H1615.7V1114.5H1619.1V1113.5H1622.5V1115.5H1625.9V1115.0H1629.3V1119.5H1632.7V1117.0H1636.1V1120.0H1639.5V1116.0H1642.9V1118.5H1646.3V1115.5H1649.7V1117.5H1653.1V1116.0H1656.5V1120.5H1659.9V1122.0H1663.3V1118.0H1666.7V1117.5H1670.1V1122.0H1673.5V1116.0H1676.9V1117.0H1680.3V1115.5H1683.7V1114.0H1687.1V1116.0H1690.5V1117.0H1693.9V1113.5H1697.3V1119.5H1700.7V1117.0H1704.1V1112.0H1707.5V1116.5H1710.9V1120.0H1714.3V1114.5H1717.7V1115.5H1721.1V1117.0H1724.5V1109.5H1727.9V1115.5H1731.3V1116.5H1734.7V1115.0H1738.1V1109.5H1741.5V1112.5H1744.9V1111.0H1748.3V1113.0H1751.7V1112.0H1755.1V1109.5H1758.5V1111.0H1761.9V1110.0H1765.3V1110.5H1768.7V1111.5H1772.1V1112.0H1775.5H1778.9V1110.0H1782.3V1110.5H1785.7V1108.5H1789.1V1108.0H1792.5V1107.0H1795.9V1110.0H1799.3V1111.0H1802.7V1110.5H1806.1V1107.0H1809.5V1108.5H1812.9V1108.0H1816.3V1109.5H1819.7V1110.5H1823.1V1111.0H1826.5V1108.0H1829.9V1112.5H1833.3V1113.0H1836.7H1840.1V1111.0H1843.5V1112.0H1846.9V1113.5H1850.3V1113.0H1853.7V1114.5H1857.1V1115.5H1860.5V1113.5H1863.9V1112.5H1867.3V1114.5H1870.7H1874.1V1115.5H1877.5V1117.0H1880.9V1111.5H1884.3V1113.5H1887.7V1112.5H1891.1V1107.5H1894.5V1104.5H1897.9V1100.0H1901.3V1096.5H1904.7V1101.0H1908.1V1108.0H1911.5V1112.5H1914.9V1110.5H1918.3V1110.0H1921.7V1113.0H1925.1V1109.0H1928.5V1107.0H1931.9V1102.0H1935.3V1094.0H1938.7H1942.1H1945.5V1100.0H1948.9V1102.0H1952.3V1104.5H1955.7V1102.5H1959.1V1100.0H1962.5V1099.5H1965.9V1097.5H1969.3V1090.0H1972.7V1091.0H1976.1V1091.5H1979.5V1089.0H1982.9V1093.5H1986.3V1096.5H1989.7V1104.0H1993.1V1106.0H1996.5H1999.9V1110.5H2003.3V1115.5H2006.7V1113.5H2010.1V1113.0H2013.5V1114.5H2016.9V1112.5H2020.3V1117.0H2023.7V1112.0H2027.1V1113.0H2030.5H2033.9V1111.5H2037.3V1110.5H2040.7V1112.5H2044.1V1113.0H2047.5V1112.5H2050.9V1109.5H2054.3V1112.5H2057.7V1112.0H2061.1V1112.5H2064.5V1113.0H2067.9V1112.5H2071.3V1111.5H2074.7V1113.5H2078.1V1111.5H2081.5V1112.5H2084.9V1114.5H2088.3V1116.5H2091.7V1112.5H2095.1V1111.5H2098.5V1108.0H2101.9V1106.5H2105.3V1107.5H2108.7V1105.5H2112.1V1104.0H2115.5V1102.5H2118.9V1100.0H2122.3H2125.7V1098.5H2129.1V1101.0H2132.5V1097.5H2135.9V1099.0H2139.3V1101.5H2142.7H2146.1V1102.5H2149.5V1098.5H2152.9V1102.5H2156.3V1103.5H2159.7V1105.0H2163.1V1107.0H2166.5V1109.0H2169.9H2173.3V1108.5H2176.7V1109.5H2180.1V1108.0H2183.5V1110.5H2186.9V1115.0H2190.3V1114.0H2193.7V1112.0H2197.1V1114.5H2200.5V1116.5H2203.9V1116.0H2207.3V1113.0H2210.7V1113.5H2214.1V1117.0H2217.5V1120.0H2220.9V1115.5H2224.3V1113.5H2227.7H2231.1V1114.5H2234.5V1116.0H2237.9V1119.0H2241.3V1120.0H2244.7V1114.5H2248.1V1117.5H2251.5V1119.0H2254.9V1117.5H2258.3V1118.0H2261.7V1117.5H2265.1V1120.5H2268.5V1119.0H2271.9V1116.5H2275.3V1118.5H2278.7V1114.5H2282.1V1109.0H2285.5V1106.5H2288.9V1107.0H2292.3V1107.5H2295.7V1107.0H2299.1V1114.0H2302.5V1115.5H2305.9V1118.0H2309.3V1116.5H2312.7V1117.5H2316.1V1121.5H2319.5V1121.0H2322.9V1122.5H2326.3V1120.0H2329.7V1122.5H2333.1V1117.5H2334.5" stroke="#000000"/>
<path d="M269.3,1290.0H272.7V1287.0H276.1H279.5V1288.5H282.9V1285.0H286.3V1286.0H289.7V1285.0H293.1V1287.5H296.5V1285.5H299.9V1287.5H303.3V1286.5H306.7V1289.5H310.1V1288.5H313.5V1289.0H316.9V1289.5H320.3V1293.0H323.7V1289.5H327.1V1287.5H330.5V1288.5H333.9V1295.5H337.3V1291.5H340.7V1291.0H344.1V1291.5H347.5V1293.5H350.9V1293.0H354.3V1292.5H357.7V1292.0H361.1V1289.5H364.5V1291.0H367.9V1290.5H371.3V1288.5H374.7V1286.5H378.1V1292.5H381.5V1291.5H384.9V1288.0H388.3V1283.5H391.7V1282.0H395.1V1282.5H398.5V1287.0H401.9V1290.0H405.3V1291.0H408.7V1290.0H412.1V1288.5H415.5V1292.0H418.9H422.3V1294.0H425.7V1294.5H429.1V1290.5H432.5V1292.5H435.9V1291.5H439.3H442.7V1295.5H446.1V1295.0H449.5V1292.5H452.9H456.3V1291.0H459.7V1290.5H463.1V1288.0H466.5V1284.0H469.9V1286.0H473.3V1285.5H476.7V1289.5H480.1V1290.5H483.5V1289.5H486.9V1293.0H490.3V1291.5H493.7V1286.5H497.1V1288.5H500.5V1292.5H503.9V1290.5H507.3V1291.0H510.7V1290.0H514.1V1289.0H517.5V1286.5H520.9V1285.5H524.3V1275.5H527.7V1228.5H531.1V1159.5H534.5V1187.5H537.9V1219.0H541.3V1259.5H544.7V1282.5H548.1V1286.0H551.5V1290.5H554.9V1289.5H558.3V1287.0H561.7V1287.5H565.1V1289.5H568.5V1290.0H571.9V1286.0H575.3V1289.5H578.7V1289.0H582.1H585.5V1289.5H588.9V1292.0H592.3V1287.0H595.7V1290.0H599.1V1287.5H602.5V1286.5H605.9V1277.5H609.3V1267.0H612.7V1250.0H616.1V1218.0H619.5V1179.0H622.9V1138.5H626.3V1137.5H629.7V1156.0H633.1V1196.0H636.5V1236.0H639.9V1258.0H643.3V1273.5H646.7V1280.5H650.1V1285.5H653.5V1283.0H656.9V1288.5H660.3V1289.0H663.7V1289.5H667.1V1288.0H670.5V1288.5H673.9V1289.5H677.3V1288.5H680.7V1290.5H684.1V1292.5H687.5V1293.5H690.9V1292.0H694.3V1289.5H697.7V1293.5H701.1V1294.5H704.5V1289.5H707.9V1290.0H711.3V1294.5H714.7H718.1V1292.5H721.5V1294.5H724.9V1290.5H728.3V1293.0H731.7V1295.0H735.1V1289.5H738.5V1294.5H741.9V1292.5H745.3V1297.0H748.7V1291.5H752.1H755.5V1293.0H758.9H762.3V1294.5H765.7V1296.0H769.1V1291.0H772.5V1293.0H775.9V1295.0H779.3V1292.5H782.7V1295.0H786.1H789.5H792.9V1294.5H796.3V1295.0H799.7V1297.0H803.1V1294.5H806.5V1297.0H809.9V1295.0H813.3V1292.0H816.7V1296.5H820.1V1294.5H823.5V1296.0H826.9V1292.0H830.3H833.7V1288.5H837.1V1284.0H840.5V1286.0H843.9V1289.0H847.3V1290.0H850.7V1291.0H854.1V1292.0H857.5V1292.5H860.9V1295.5H864.3V1296.0H867.7V1294.0H871.1V1293.5H874.5V1294.0H877.9V1293.5H881.3V1298.0H884.7V1296.0H888.1V1294.5H891.5V1293.0H894.9V1293.5H898.3V1296.5H901.7V1296.0H905.1V1299.5H908.5V1295.5H911.9V1293.5H915.3V1293.0H918.7V1288.5H922.1V1292.0H925.5V1286.5H928.9V1289.0H932.3V1290.5H935.7V1293.5H939.1V1295.0H942.5V1295.5H945.9V1294.5H949.3V1295.5H952.7V1296.0H956.1H959.5V1293.5H962.9V1297.0H966.3V1295.0H969.7V1296.5H973.1V1297.0H976.5V1295.5H979.9V1294.5H983.3V1299.0H986.7V1296.0H990.1H993.5V1297.0H996.9V1294.5H1000.3V1296.0H1003.7V1296.5H1007.1V1294.0H1010.5V1294.5H1013.9V1296.0H1017.3V1298.0H1020.7V1292.5H1024.1V1295.0H1027.5H1030.9V1294.0H1034.3V1295.5H1037.7V1293.0H1041.1V1296.5H1044.5V1294.5H1047.9V1296.0H1051.3V1292.5H1054.7V1297.0H1058.1V1294.0H1061.5V1295.5H1064.9V1296.0H1068.3V1295.0H1071.7V1294.0H1075.1V1295.5H1078.5V1296.5H1081.9V1294.5H1085.3H1088.7V1294.0H1092.1V1293.5H1095.5V1293.0H1098.9V1289.5H1102.3V1291.0H1105.7V1290.0H1109.1V1287.0H1112.5V1286.0H1115.9V1284.5H1119.3H1122.7V1286.5H1126.1V1288.5H1129.5H1132.9V1289.5H1136.3V1286.0H1139.7V1289.0H1143.1V1286.0H1146.5V1285.0H1149.9V1281.0H1153.3V1280.5H1156.7V1283.0H1160.1V1285.5H1163.5V1288.0H1166.9V1289.0H1170.3V1295.5H1173.7V1297.5H1177.1V1295.5H1180.5V1293.0H1183.9V1296.0H1187.3V1298.0H1190.7V1293.0H1194.1V1298.0H1197.5V1297.0H1200.9V1292.0H1204.3V1297.0H1207.7H1211.1V1296.0H1214.5V1293.0H1217.9V1295.5H1221.3V1299.5H1224.7V1295.5H1228.1V1294.0H1231.5V1297.0H1234.9H1238.3V1295.0H1241.7V1297.0H1245.1V1294.5H1248.5V1295.0H1251.9V1294.5H1255.3V1298.0H1258.7V1295.5H1262.1V1293.5H1265.5V1298.0H1268.9V1297.0H1272.3V1296.0H1275.7V1298.0H1279.1V1295.0H1282.5V1295.5H1285.9V1295.0H1289.3V1297.0H1292.7V1295.5H1296.1V1296.5H1299.5H1302.9V1295.5H1306.3V1294.0H1309.7V1295.0H1313.1V1290.5H1316.5V1293.0H1319.9H1323.3V1297.5H1326.7V1298.5H1330.1V1294.5H1333.5V1297.0H1336.9V1295.0H1340.3V1297.5H1343.7V1294.5H1347.1V1298.0H1350.5V1297.0H1353.9H1357.3V1294.0H1360.7V1290.5H1364.1V1292.5H1367.5V1292.0H1370.9H1374.3V1291.0H1377.7H1381.1V1290.0H1384.5V1294.0H1387.9V1288.0H1391.3V1287.0H1394.7V1281.0H1398.1V1286.0H1401.5V1284.0H1404.9V1284.5H1408.3V1284.0H1411.7H1415.1V1287.0H1418.5V1285.0H1421.9V1291.0H1425.3V1292.0H1428.7V1290.5H1432.1V1290.0H1435.5V1294.0H1438.9V1293.5H1442.3V1292.5H1445.7V1294.5H1449.1V1296.5H1452.5V1290.0H1455.9H1459.3V1289.5H1462.7V1293.5H1466.1V1289.5H1469.5H1472.9V1285.5H1476.3V1275.0H1479.7V1265.5H1483.1V1253.5H1486.5V1243.0H1489.9V1237.0H1493.3V1240.5H1496.7V1246.5H1500.1V1260.5H1503.5V1270.5H1506.9V1281.5H1510.3V1283.5H1513.7V1286.5H1517.1V1289.5H1520.5V1291.0H1523.9H1527.3V1285.0H1530.7H1534.1V1286.0H1537.5V1281.0H1540.9V1281.5H1544.3V1275.5H1547.7V1275.0H1551.1V1272.0H1554.5V1269.5H1557.9V1268.5H1561.3H1564.7V1274.5H1568.1V1281.5H1571.5V1279.5H1574.9V1284.5H1578.3V1286.5H1581.7V1290.0H1585.1V1290.5H1588.5V1292.5H1591.9V1291.5H1595.3V1294.5H1598.7V1291.5H1602.1V1292.5H1605.5V1297.5H1608.9V1295.0H1612.3V1296.0H1615.7V1292.5H1619.1H1622.5V1294.5H1625.9V1293.5H1629.3V1295.0H1632.7V1294.0H1636.1V1295.0H1639.5V1293.5H1642.9V1295.5H1646.3V1292.0H1649.7V1296.0H1653.1H1656.5V1295.5H1659.9V1299.0H1663.3V1297.0H1666.7V1299.0H1670.1H1673.5V1296.0H1676.9V1295.5H1680.3V1296.0H1683.7V1297.5H1687.1V1295.0H1690.5V1296.5H1693.9H1697.3V1294.5H1700.7V1296.5H1704.1V1294.5H1707.5V1298.0H1710.9V1292.5H1714.3V1293.5H1717.7V1292.0H1721.1V1287.0H1724.5V1289.0H1727.9H1731.3V1288.0H1734.7V1291.0H1738.1V1287.5H1741.5V1289.0H1744.9V1287.5H1748.3V1288.0H1751.7V1287.5H1755.1V1289.5H1758.5H1761.9V1287.0H1765.3V1288.0H1768.7V1287.0H1772.1V1288.0H1775.5V1287.0H1778.9V1288.0H1782.3V1284.0H1785.7V1284.5H1789.1V1288.5H1792.5V1287.5H1795.9V1289.0H1799.3V1287.5H1802.7V1284.5H1806.1V1287.0H1809.5V1285.0H1812.9V1284.5H1816.3V1287.0H1819.7V1283.0H1823.1V1285.5H1826.5V1284.0H1829.9V1282.0H1833.3V1286.0H1836.7V1285.0H1840.1V1286.5H1843.5V1287.5H1846.9V1290.0H1850.3V1286.0H1853.7V1291.0H1857.1V1291.5H1860.5V1292.0H1863.9V1293.0H1867.3V1294.5H1870.7V1294.0H1874.1V1292.0H1877.5V1287.0H1880.9V1288.5H1884.3V1288.0H1887.7V1287.0H1891.1V1282.0H1894.5V1280.5H1897.9V1273.0H1901.3V1271.5H1904.7V1277.5H1908.1V1278.5H1911.5V1284.0H1914.9V1285.5H1918.3V1284.5H1921.7V1285.0H1925.1V1282.0H1928.5V1279.5H1931.9V1275.0H1935.3V1269.5H1938.7V1260.5H1942.1V1262.0H1945.5V1270.5H1948.9V1277.5H1952.3V1279.5H1955.7V1282.5H1959.1V1280.5H1962.5V1279.0H1965.9V1278.5H1969.3V1276.0H1972.7V1270.5H1976.1V1271.5H1979.5V1272.0H1982.9V1276.0H1986.3V1277.5H1989.7V1282.0H1993.1V1283.0H1996.5V1286.0H1999.9V1287.5H2003.3V1289.0H2006.7V1290.0H2010.1V1288.5H2013.5V1289.5H2016.9V1292.0H2020.3H2023.7V1289.5H2027.1V1292.5H2030.5V1290.5H2033.9V1290.0H2037.3V1287.0H2040.7V1286.5H2044.1H2047.5V1287.0H2050.9V1285.0H2054.3V1286.5H2057.7H2061.1V1288.5H2064.5V1290.5H2067.9V1288.5H2071.3V1287.0H2074.7V1289.5H2078.1H2081.5V1291.5H2084.9V1291.0H2088.3V1288.0H2091.7V1289.5H2095.1V1290.5H2098.5V1289.5H2101.9V1286.5H2105.3V1283.0H2108.7V1279.5H2112.1H2115.5V1271.5H2118.9V1270.0H2122.3V1264.5H2125.7V1263.0H2129.1V1262.0H2132.5V1263.5H2135.9V1261.0H2139.3V1264.0H2142.7V1270.0H2146.1V1270.5H2149.5V1271.5H2152.9V1276.5H2156.3V1277.0H2159.7V1282.5H2163.1V1281.5H2166.5V1287.0H2169.9V1288.5H2173.3H2176.7H2180.1V1293.5H2183.5V1295.0H2186.9V1293.5H2190.3V1291.0H2193.7V1296.5H2197.1V1301.0H2200.5V1293.5H2203.9V1292.5H2207.3V1296.0H2210.7H2214.1V1295.5H2217.5H2220.9V1298.0H2224.3V1292.5H2227.7V1298.0H2231.1V1296.5H2234.5V1298.5H2237.9V1294.5H2241.3V1296.0H2244.7V1293.5H2248.1V1294.5H2251.5H2254.9V1291.5H2258.3V1293.0H2261.7V1296.0H2265.1V1293.0H2268.5V1294.5H2271.9V1295.5H2275.3V1294.0H2278.7V1291.0H2282.1V1285.5H2285.5V1276.5H2288.9V1267.0H2292.3V1271.5H2295.7V1278.0H2299.1V1279.5H2302.5V1277.0H2305.9V1287.0H2309.3V1293.0H2312.7V1295.5H2316.1V1291.0H2319.5V1300.5H2322.9V1300.0H2326.3V1299.0H2329.7V1297.0H2333.1V1300.5H2334.5" stroke="#00c6c6"/>
<path d="M269.3,1467.5H272.7V1462.5H276.1V1464.5H279.5V1464.0H282.9V1463.0H286.3V1464.5H289.7V1461.0H293.1V1460.0H296.5V1461.0H299.9H303.3V1467.0H306.7H310.1V1463.5H313.5V1468.5H316.9V1470.5H320.3V1467.5H323.7V1473.0H327.1V1469.5H330.5V1467.5H333.9V1469.0H337.3V1467.5H340.7V1471.0H344.1V1470.0H347.5V1469.5H350.9V1468.5H354.3V1469.5H357.7V1467.0H361.1V1471.0H364.5V1470.0H367.9V1472.0H371.3V1473.0H374.7V1470.5H378.1V1469.5H381.5V1468.0H384.9V1466.0H388.3V1463.5H391.7V1462.5H395.1V1464.5H398.5V1464.0H401.9V1463.5H405.3V1466.5H408.7V1475.0H412.1V1470.5H415.5V1468.5H418.9V1471.5H422.3V1470.5H425.7H429.1V1470.0H432.5V1466.5H435.9V1468.0H439.3V1471.5H442.7V1468.5H446.1V1470.0H449.5V1468.0H452.9V1469.5H456.3V1468.5H459.7V1463.5H463.1V1464.5H466.5V1460.5H469.9V1462.5H473.3V1465.5H476.7V1468.0H480.1V1467.0H483.5V1463.0H486.9V1466.5H490.3V1468.5H493.7V1469.0H497.1V1467.5H500.5V1472.5H503.9V1468.5H507.3V1467.0H510.7V1468.0H514.1H517.5V1467.0H520.9V1464.5H524.3V1455.0H527.7V1402.0H531.1V1313.0H534.5V1358.0H537.9V1393.0H541.3V1428.5H544.7V1457.5H548.1V1463.5H551.5V1464.0H554.9V1468.0H558.3V1467.0H561.7V1470.5H565.1V1461.5H568.5V1469.5H571.9V1468.0H575.3H578.7V1470.0H582.1V1472.5H585.5V1463.5H588.9V1467.0H592.3V1467.5H595.7V1466.0H599.1V1463.5H602.5V1462.5H605.9V1465.0H609.3V1454.0H612.7V1443.0H616.1V1421.5H619.5V1392.0H622.9V1360.0H626.3V1346.0H629.7V1359.5H633.1V1391.0H636.5V1423.5H639.9V1440.5H643.3V1452.0H646.7V1459.0H650.1V1461.0H653.5V1463.5H656.9V1466.5H660.3V1467.0H663.7V1468.0H667.1V1466.5H670.5V1470.0H673.9V1468.5H677.3V1463.5H680.7V1467.5H684.1V1470.0H687.5V1467.5H690.9V1469.5H694.3V1468.5H697.7V1473.0H701.1V1469.0H704.5V1468.0H707.9V1470.5H711.3V1469.0H714.7V1469.5H718.1V1469.0H721.5V1468.0H724.9V1471.5H728.3V1470.0H731.7H735.1V1467.0H738.5V1473.0H741.9V1467.0H745.3V1470.0H748.7H752.1V1467.0H755.5V1472.5H758.9V1468.5H762.3V1469.0H765.7V1471.0H769.1V1473.0H772.5V1472.0H775.9V1468.5H779.3V1470.5H782.7H786.1V1472.5H789.5V1473.0H792.9V1470.0H796.3V1471.0H799.7V1471.5H803.1V1469.5H806.5H809.9V1472.5H813.3V1471.5H816.7V1472.5H820.1V1470.5H823.5H826.9V1469.5H830.3H833.7V1461.5H837.1V1460.5H840.5V1461.0H843.9V1465.0H847.3V1467.0H850.7V1468.0H854.1V1471.0H857.5V1471.5H860.9V1472.0H864.3V1470.5H867.7V1471.5H871.1V1470.5H874.5V1470.0H877.9V1468.5H881.3H884.7V1466.5H888.1V1472.5H891.5V1470.0H894.9V1475.5H898.3V1468.0H901.7V1469.5H905.1V1471.5H908.5V1466.5H911.9H915.3V1468.5H918.7V1466.5H922.1V1463.5H925.5V1459.0H928.9H932.3V1464.5H935.7V1466.0H939.1V1466.5H942.5H945.9V1468.5H949.3V1473.0H952.7V1472.5H956.1V1468.5H959.5V1470.5H962.9V1473.5H966.3V1474.5H969.7V1467.5H973.1V1470.5H976.5V1474.0H979.9V1473.5H983.3V1469.5H986.7V1470.0H990.1V1473.0H993.5V1470.5H996.9V1473.0H1000.3V1471.0H1003.7V1473.0H1007.1V1467.5H1010.5V1470.0H1013.9V1473.5H1017.3V1469.0H1020.7V1472.0H1024.1V1470.0H1027.5V1470.5H1030.9V1474.5H1034.3V1473.5H1037.7V1473.0H1041.1V1468.0H1044.5V1470.5H1047.9V1471.0H1051.3V1471.5H1054.7H1058.1V1465.0H1061.5V1468.0H1064.9V1468.5H1068.3V1469.5H1071.7V1468.0H1075.1V1468.5H1078.5V1470.0H1081.9V1471.5H1085.3V1474.0H1088.7V1470.0H1092.1V1472.0H1095.5V1470.5H1098.9V1474.0H1102.3V1466.0H1105.7V1465.5H1109.1V1466.0H1112.5V1461.0H1115.9V1459.0H1119.3V1461.5H1122.7V1459.5H1126.1V1464.0H1129.5V1461.0H1132.9V1460.5H1136.3V1461.0H1139.7V1462.5H1143.1V1457.5H1146.5V1460.0H1149.9V1459.5H1153.3V1457.5H1156.7V1462.5H1160.1V1465.0H1163.5V1470.5H1166.9V1469.0H1170.3V1470.0H1173.7H1177.1V1473.5H1180.5H1183.9V1469.5H1187.3V1474.5H1190.7V1475.0H1194.1V1472.5H1197.5V1473.0H1200.9V1472.0H1204.3V1469.0H1207.7V1470.5H1211.1V1472.0H1214.5V1471.0H1217.9V1469.5H1221.3V1469.0H1224.7H1228.1V1468.5H1231.5V1472.0H1234.9V1471.5H1238.3V1469.5H1241.7V1473.0H1245.1V1470.5H1248.5V1468.5H1251.9H1255.3V1469.0H1258.7V1472.5H1262.1V1471.5H1265.5V1473.5H1268.9V1471.5H1272.3V1473.5H1275.7V1471.5H1279.1V1470.5H1282.5V1466.5H1285.9V1471.0H1289.3V1473.5H1292.7V1472.5H1296.1V1473.0H1299.5H1302.9V1472.5H1306.3H1309.7V1470.0H1313.1V1471.0H1316.5V1471.5H1319.9V1474.0H1323.3V1474.5H1326.7H1330.1V1471.0H1333.5V1472.0H1336.9V1472.5H1340.3V1472.0H1343.7V1470.5H1347.1V1473.0H1350.5V1471.5H1353.9V1469.5H1357.3V1471.5H1360.7V1470.0H1364.1V1468.0H1367.5V1469.0H1370.9V1471.5H1374.3V1471.0H1377.7V1469.5H1381.1V1466.5H1384.5V1466.0H1387.9V1463.0H1391.3V1462.5H1394.7V1460.0H1398.1V1462.5H1401.5V1458.5H1404.9V1460.5H1408.3V1455.5H1411.7V1458.5H1415.1V1461.5H1418.5V1463.5H1421.9V1464.5H1425.3V1464.0H1428.7V1467.0H1432.1V1468.0H1435.5V1467.0H1438.9V1469.0H1442.3V1465.0H1445.7V1467.0H1449.1V1469.0H1452.5V1468.5H1455.9H1459.3V1466.0H1462.7V1466.5H1466.1V1463.5H1469.5V1460.5H1472.9V1457.5H1476.3V1455.0H1479.7V1443.5H1483.1V1435.0H1486.5V1422.0H1489.9V1418.5H1493.3V1423.0H1496.7V1431.0H1500.1V1442.0H1503.5V1446.5H1506.9V1462.5H1510.3V1462.0H1513.7V1461.5H1517.1V1464.5H1520.5V1463.0H1523.9V1465.0H1527.3V1461.0H1530.7V1462.0H1534.1V1459.5H1537.5V1454.5H1540.9V1452.5H1544.3V1447.5H1547.7V1444.0H1551.1V1444.5H1554.5V1445.5H1557.9V1448.5H1561.3V1453.5H1564.7V1457.0H1568.1V1463.5H1571.5V1464.5H1574.9V1467.5H1578.3V1469.0H1581.7V1467.5H1585.1V1471.0H1588.5V1470.0H1591.9V1469.0H1595.3V1471.5H1598.7V1471.0H1602.1V1470.5H1605.5V1470.0H1608.9V1471.5H1612.3V1472.5H1615.7V1470.5H1619.1V1471.0H1622.5V1472.0H1625.9V1469.0H1629.3V1475.0H1632.7V1472.0H1636.1V1467.5H1639.5V1473.5H1642.9H1646.3V1470.5H1649.7H1653.1V1472.5H1656.5V1471.5H1659.9V1473.0H1663.3V1475.0H1666.7V1470.0H1670.1V1472.5H1673.5V1475.5H1676.9V1476.5H1680.3V1474.5H1683.7V1472.5H1687.1V1474.0H1690.5V1470.0H1693.9H1697.3V1474.5H1700.7V1473.0H1704.1V1473.5H1707.5V1471.0H1710.9V1472.0H1714.3V1471.5H1717.7V1469.5H1721.1V1471.5H1724.5V1470.5H1727.9V1468.5H1731.3V1471.0H1734.7V1468.0H1738.1V1466.0H1741.5V1466.5H1744.9V1467.5H1748.3V1468.5H1751.7V1468.0H1755.1V1470.0H1758.5V1469.0H1761.9V1465.5H1765.3H1768.7V1473.0H1772.1V1471.0H1775.5V1465.5H1778.9V1471.0H1782.3V1465.0H1785.7V1464.0H1789.1V1464.5H1792.5H1795.9V1467.5H1799.3V1467.0H1802.7H1806.1V1465.0H1809.5V1464.0H1812.9V1463.5H1816.3V1462.5H1819.7V1468.0H1823.1V1463.0H1826.5V1461.5H1829.9V1466.5H1833.3V1463.0H1836.7V1465.5H1840.1V1466.0H1843.5V1464.0H1846.9V1467.0H1850.3V1469.0H1853.7V1466.0H1857.1V1470.0H1860.5V1468.0H1863.9V1467.0H1867.3V1468.0H1870.7V1466.5H1874.1V1463.0H1877.5V1460.5H1880.9V1461.0H1884.3V1454.5H1887.7V1447.5H1891.1V1434.0H1894.5V1419.5H1897.9V1402.5H1901.3V1395.0H1904.7V1403.5H1908.1V1419.0H1911.5V1438.0H1914.9V1443.0H1918.3V1453.5H1921.7V1453.0H1925.1V1455.0H1928.5V1457.0H1931.9V1453.5H1935.3V1453.0H1938.7V1449.0H1942.1V1449.5H1945.5V1453.5H1948.9V1450.0H1952.3V1457.0H1955.7V1459.0H1959.1V1459.5H1962.5V1457.0H1965.9V1454.0H1969.3V1447.0H1972.7H1976.1V1438.5H1979.5V1446.0H1982.9V1443.5H1986.3V1447.5H1989.7V1452.5H1993.1V1457.5H1996.5V1460.0H1999.9V1462.0H2003.3V1464.5H2006.7V1462.5H2010.1V1470.0H2013.5V1466.5H2016.9V1469.5H2020.3V1465.5H2023.7V1467.5H2027.1V1465.5H2030.5V1465.0H2033.9V1463.5H2037.3V1467.5H2040.7V1464.0H2044.1V1465.0H2047.5V1465.5H2050.9V1465.0H2054.3V1464.0H2057.7V1462.0H2061.1V1464.5H2064.5V1463.5H2067.9V1465.0H2071.3V1467.0H2074.7V1466.5H2078.1V1465.5H2081.5V1466.0H2084.9V1468.5H2088.3V1468.0H2091.7H2095.1V1463.5H2098.5V1466.0H2101.9V1461.5H2105.3V1462.0H2108.7V1456.0H2112.1V1452.0H2115.5V1451.5H2118.9V1446.5H2122.3V1442.0H2125.7V1437.0H2129.1V1438.5H2132.5V1440.5H2135.9V1440.0H2139.3V1441.5H2142.7V1444.5H2146.1V1447.5H2149.5V1451.5H2152.9V1453.5H2156.3V1452.0H2159.7V1451.5H2163.1V1459.0H2166.5V1457.5H2169.9V1462.0H2173.3H2176.7V1469.5H2180.1V1466.0H2183.5V1466.5H2186.9V1469.0H2190.3V1470.0H2193.7V1468.0H2197.1V1469.0H2200.5V1473.5H2203.9V1474.5H2207.3V1473.0H2210.7H2214.1V1470.0H2217.5V1475.5H2220.9V1470.0H2224.3V1474.5H2227.7V1470.5H2231.1V1470.0H2234.5V1471.5H2237.9H2241.3V1472.5H2244.7V1475.0H2248.1V1474.5H2251.5V1473.0H2254.9V1471.5H2258.3H2261.7V1474.0H2265.1V1467.0H2268.5V1471.0H2271.9V1469.5H2275.3V1471.0H2278.7V1460.5H2282.1V1454.0H2285.5V1434.5H2288.9V1421.0H2292.3V1438.5H2295.7V1453.0H2299.1V1455.0H2302.5V1450.0H2305.9V1453.5H2309.3V1464.0H2312.7V1471.0H2316.1V1477.5H2319.5V1475.5H2322.9V1473.5H2326.3V1477.5H2329.7V1475.0H2333.1V1474.0H2334.5" stroke="#95009c"/>
<path d="M269.3,1633.5H272.7V1635.5H276.1V1630.0H279.5V1628.5H282.9V1627.0H286.3V1626.0H289.7V1624.5H293.1V1624.0H296.5V1624.5H299.9V1627.0H303.3V1632.5H306.7V1634.0H310.1V1635.5H313.5V1633.5H316.9V1634.5H320.3V1640.5H323.7V1641.0H327.1V1641.5H330.5V1644.0H333.9V1640.5H337.3V1643.0H340.7V1641.0H344.1V1639.0H347.5V1638.0H350.9V1641.5H354.3V1639.5H357.7V1639.0H361.1V1642.0H364.5V1643.5H367.9V1644.5H371.3V1646.5H374.7V1643.0H378.1V1639.0H381.5V1638.5H384.9V1639.0H388.3V1634.0H391.7V1635.5H395.1V1636.5H398.5V1632.0H401.9V1637.5H405.3V1639.5H408.7V1640.0H412.1H415.5H418.9V1643.5H422.3V1639.5H425.7V1637.0H429.1V1639.5H432.5V1640.0H435.9V1639.0H439.3V1637.5H442.7V1637.0H446.1V1634.5H449.5V1634.0H452.9V1627.5H456.3V1628.0H459.7V1622.5H463.1V1621.5H466.5V1623.5H469.9V1624.0H473.3V1627.5H476.7V1629.0H480.1V1632.5H483.5V1636.5H486.9V1635.0H490.3V1633.0H493.7V1636.5H497.1V1637.5H500.5V1638.5H503.9V1636.0H507.3V1639.0H510.7H514.1V1635.5H517.5V1636.0H520.9V1631.0H524.3V1617.0H527.7V1578.0H531.1V1567.5H534.5V1612.5H537.9V1629.5H541.3V1636.5H544.7V1639.5H548.1V1640.5H551.5V1642.0H554.9V1641.0H558.3V1638.5H561.7V1636.5H565.1V1639.5H568.5V1643.0H571.9V1637.0H575.3V1638.0H578.7V1634.0H582.1V1636.0H585.5V1628.5H588.9V1633.0H592.3V1628.0H595.7V1629.0H599.1V1630.0H602.5V1621.5H605.9V1621.0H609.3V1615.5H612.7V1609.0H616.1V1590.5H619.5V1562.5H622.9V1536.5H626.3V1528.0H629.7V1546.0H633.1V1576.0H636.5V1601.5H639.9V1617.0H643.3V1624.5H646.7V1630.0H650.1V1626.0H653.5V1629.0H656.9V1632.0H660.3H663.7V1634.5H667.1V1631.5H670.5V1634.0H673.9V1633.5H677.3V1634.5H680.7V1638.0H684.1V1637.5H687.5V1634.5H690.9V1637.5H694.3V1637.0H697.7H701.1V1636.5H704.5V1636.0H707.9V1632.0H711.3V1638.5H714.7V1636.5H718.1V1638.5H721.5V1637.5H724.9V1639.0H728.3V1642.0H731.7V1638.0H735.1V1639.0H738.5H741.9V1641.5H745.3V1640.5H748.7V1636.5H752.1V1638.0H755.5V1640.0H758.9V1642.5H762.3V1640.5H765.7V1641.0H769.1V1637.0H772.5V1640.0H775.9V1639.5H779.3V1642.0H782.7V1641.0H786.1V1642.5H789.5V1642.0H792.9V1643.5H796.3V1642.0H799.7V1643.0H803.1V1641.5H806.5V1642.5H809.9V1645.5H813.3V1643.5H816.7V1644.0H820.1V1645.0H823.5V1641.0H826.9H830.3V1645.5H833.7V1643.5H837.1V1642.0H840.5H843.9V1641.0H847.3V1641.5H850.7V1642.5H854.1V1641.0H857.5H860.9V1643.0H864.3V1640.5H867.7V1644.0H871.1V1643.5H874.5V1640.0H877.9V1644.0H881.3V1642.0H884.7V1644.0H888.1V1640.0H891.5V1642.0H894.9V1641.5H898.3V1644.5H901.7V1644.0H905.1V1641.5H908.5V1637.0H911.9V1635.5H915.3V1629.5H918.7V1617.5H922.1V1601.0H925.5V1600.5H928.9V1610.5H932.3V1623.5H935.7V1633.0H939.1V1639.5H942.5V1637.0H945.9V1638.0H949.3V1642.5H952.7V1642.0H956.1V1640.5H959.5H962.9V1640.0H966.3V1643.5H969.7V1643.0H973.1V1641.0H976.5V1645.0H979.9V1642.0H983.3H986.7V1644.5H990.1V1642.5H993.5V1641.5H996.9V1644.0H1000.3V1641.5H1003.7V1642.0H1007.1V1640.0H1010.5V1637.5H1013.9V1641.0H1017.3V1642.5H1020.7V1638.5H1024.1V1640.5H1027.5V1638.5H1030.9V1640.0H1034.3V1638.5H1037.7H1041.1V1635.5H1044.5H1047.9V1639.0H1051.3V1637.5H1054.7V1634.0H1058.1V1639.5H1061.5V1638.0H1064.9V1639.0H1068.3V1638.5H1071.7H1075.1V1635.5H1078.5V1638.5H1081.9V1637.5H1085.3V1641.5H1088.7V1637.5H1092.1V1641.5H1095.5V1638.5H1098.9V1639.0H1102.3V1631.5H1105.7V1627.5H1109.1V1628.0H1112.5H1115.9V1629.0H1119.3H1122.7V1627.0H1126.1V1633.0H1129.5V1634.0H1132.9V1633.5H1136.3V1635.5H1139.7V1634.0H1143.1V1638.5H1146.5V1639.5H1149.9V1638.0H1153.3V1640.5H1156.7H1160.1V1640.0H1163.5V1640.5H1166.9V1639.0H1170.3V1640.0H1173.7V1645.0H1177.1V1646.0H1180.5V1644.5H1183.9V1643.0H1187.3V1643.5H1190.7V1642.5H1194.1V1638.5H1197.5V1639.0H1200.9V1643.5H1204.3V1641.5H1207.7V1638.5H1211.1V1642.0H1214.5V1637.0H1217.9V1636.0H1221.3V1641.5H1224.7V1639.0H1228.1V1635.0H1231.5V1639.0H1234.9V1637.0H1238.3H1241.7H1245.1V1640.0H1248.5V1637.5H1251.9V1641.0H1255.3V1643.5H1258.7V1641.5H1262.1V1644.0H1265.5H1268.9V1645.5H1272.3H1275.7V1641.5H1279.1V1644.0H1282.5V1642.5H1285.9V1640.5H1289.3H1292.7V1642.5H1296.1V1644.5H1299.5V1641.5H1302.9V1643.0H1306.3V1640.5H1309.7V1646.0H1313.1V1643.0H1316.5H1319.9H1323.3V1646.0H1326.7V1644.5H1330.1V1642.0H1333.5V1645.0H1336.9V1644.5H1340.3V1643.5H1343.7H1347.1V1644.0H1350.5V1642.0H1353.9V1641.5H1357.3V1641.0H1360.7V1642.0H1364.1V1643.5H1367.5V1640.5H1370.9V1640.0H1374.3V1639.0H1377.7V1640.0H1381.1V1635.5H1384.5V1634.0H1387.9V1633.0H1391.3V1634.5H1394.7V1634.0H1398.1V1628.5H1401.5V1630.0H1404.9V1632.0H1408.3V1633.0H1411.7V1627.5H1415.1V1633.0H1418.5V1634.5H1421.9V1631.0H1425.3V1643.0H1428.7V1635.5H1432.1V1640.5H1435.5V1638.5H1438.9V1640.0H1442.3V1643.5H1445.7V1639.0H1449.1V1638.5H1452.5V1639.0H1455.9V1639.5H1459.3H1462.7H1466.1V1635.0H1469.5V1631.5H1472.9V1625.0H1476.3V1625.5H1479.7V1616.0H1483.1V1604.5H1486.5V1602.0H1489.9V1598.5H1493.3V1595.0H1496.7V1607.0H1500.1V1612.5H1503.5V1620.0H1506.9V1625.0H1510.3V1633.5H1513.7V1631.5H1517.1V1636.5H1520.5V1634.5H1523.9V1635.5H1527.3V1628.5H1530.7V1627.0H1534.1V1623.0H1537.5V1618.0H1540.9V1610.5H1544.3V1603.0H1547.7V1596.5H1551.1V1594.0H1554.5V1596.5H1557.9V1602.5H1561.3V1610.0H1564.7V1618.0H1568.1V1620.0H1571.5V1625.5H1574.9V1630.5H1578.3V1632.5H1581.7V1633.0H1585.1V1638.5H1588.5V1636.5H1591.9V1637.0H1595.3V1638.5H1598.7V1642.5H1602.1V1641.5H1605.5V1640.0H1608.9V1641.0H1612.3V1644.0H1615.7V1641.0H1619.1V1639.5H1622.5V1642.0H1625.9V1644.0H1629.3V1645.0H1632.7V1643.0H1636.1V1646.0H1639.5V1642.0H1642.9V1642.5H1646.3V1644.5H1649.7V1642.5H1653.1V1642.0H1656.5V1644.5H1659.9V1642.5H1663.3V1643.5H1666.7V1644.5H1670.1V1642.5H1673.5H1676.9V1645.0H1680.3V1644.0H1683.7H1687.1V1646.5H1690.5V1643.0H1693.9V1644.0H1697.3V1643.5H1700.7V1642.0H1704.1V1645.0H1707.5V1641.5H1710.9H1714.3V1645.0H1717.7V1644.0H1721.1V1642.5H1724.5V1638.0H1727.9V1637.0H1731.3V1636.5H1734.7V1637.0H1738.1H1741.5V1638.0H1744.9H1748.3V1637.0H1751.7V1638.0H1755.1V1639.0H1758.5V1638.5H1761.9V1636.5H1765.3V1639.5H1768.7V1637.0H1772.1V1635.0H1775.5V1636.0H1778.9V1633.5H1782.3V1635.0H1785.7V1634.5H1789.1V1637.0H1792.5V1633.0H1795.9V1635.0H1799.3V1636.0H1802.7H1806.1V1636.5H1809.5V1635.0H1812.9V1634.5H1816.3V1633.5H1819.7V1633.0H1823.1V1631.0H1826.5V1636.5H1829.9V1636.0H1833.3V1632.5H1836.7V1636.5H1840.1V1633.5H1843.5V1635.0H1846.9V1635.5H1850.3V1636.5H1853.7V1633.5H1857.1V1634.0H1860.5V1633.0H1863.9V1629.5H1867.3V1628.5H1870.7V1624.5H1874.1H1877.5V1617.0H1880.9V1608.0H1884.3V1596.0H1887.7V1579.0H1891.1V1551.5H1894.5V1526.0H1897.9V1497.5H1901.3V1493.0H1904.7V1504.5H1908.1V1525.0H1911.5V1550.0H1914.9V1573.0H1918.3V1588.5H1921.7V1599.0H1925.1V1601.0H1928.5V1604.0H1931.9V1602.0H1935.3V1601.5H1938.7V1602.5H1942.1V1611.0H1945.5V1612.0H1948.9V1617.5H1952.3V1621.5H1955.7V1621.0H1959.1V1622.0H1962.5V1621.0H1965.9V1611.5H1969.3V1603.0H1972.7V1598.5H1976.1V1599.5H1979.5V1604.0H1982.9V1605.5H1986.3V1609.5H1989.7V1620.0H1993.1V1630.0H1996.5V1631.0H1999.9V1635.0H2003.3V1636.0H2006.7V1640.5H2010.1V1636.5H2013.5V1638.0H2016.9V1636.5H2020.3V1639.5H2023.7V1640.0H2027.1V1637.0H2030.5V1636.5H2033.9H2037.3V1637.0H2040.7V1636.5H2044.1V1640.0H2047.5H2050.9V1639.5H2054.3V1637.5H2057.7V1636.0H2061.1V1637.5H2064.5H2067.9H2071.3V1639.0H2074.7V1633.0H2078.1V1636.0H2081.5V1633.5H2084.9H2088.3V1631.0H2091.7H2095.1V1630.5H2098.5V1627.5H2101.9V1621.0H2105.3V1622.0H2108.7V1613.5H2112.1V1607.0H2115.5V1600.0H2118.9V1594.0H2122.3V1587.0H2125.7V1585.0H2129.1V1581.5H2132.5V1589.0H2135.9V1596.0H2139.3V1602.5H2142.7V1608.5H2146.1V1612.5H2149.5V1618.5H2152.9V1624.0H2156.3V1625.0H2159.7V1622.5H2163.1V1628.0H2166.5V1627.5H2169.9V1631.5H2173.3V1636.0H2176.7H2180.1V1640.0H2183.5V1639.5H2186.9V1641.0H2190.3V1639.5H2193.7V1639.0H2197.1V1639.5H2200.5V1641.0H2203.9V1647.0H2207.3V1646.5H2210.7V1642.5H2214.1V1642.0H2217.5V1642.5H2220.9V1642.0H2224.3V1642.5H2227.7V1645.0H2231.1V1640.5H2234.5V1646.5H2237.9V1644.5H2241.3V1641.0H2244.7H2248.1V1647.0H2251.5V1642.0H2254.9V1647.0H2258.3V1645.0H2261.7H2265.1V1647.0H2268.5V1645.0H2271.9V1646.5H2275.3V1641.5H2278.7V1637.5H2282.1V1631.5H2285.5V1623.5H2288.9V1619.0H2292.3V1624.0H2295.7V1625.0H2299.1V1632.5H2302.5V1639.5H2305.9V1647.5H2309.3V1644.5H2312.7V1647.5H2316.1V1645.5H2319.5V1647.5H2322.9V1647.0H2326.3V1646.0H2329.7H2333.1V1654.0H2334.5" stroke="#ecec00"/>
<path d="M269.3,1818.5H272.7V1816.0H276.1V1815.0H279.5V1814.0H282.9V1812.0H286.3V1810.5H289.7H293.1H296.5V1811.5H299.9V1810.0H303.3V1811.0H306.7V1816.0H310.1H313.5V1815.5H316.9V1817.5H320.3V1815.5H323.7V1821.5H327.1V1817.0H330.5V1820.0H333.9V1818.5H337.3V1819.5H340.7V1821.0H344.1V1821.5H347.5V1822.0H350.9V1820.5H354.3V1817.5H357.7V1821.0H361.1V1818.5H364.5V1821.0H367.9V1819.0H371.3V1823.0H374.7H378.1V1817.5H381.5V1818.5H384.9V1818.0H388.3V1819.0H391.7V1820.5H395.1V1821.0H398.5V1817.0H401.9V1819.0H405.3V1818.5H408.7V1816.0H412.1V1816.5H415.5V1816.0H418.9H422.3V1814.5H425.7V1816.5H429.1V1819.0H432.5H435.9V1821.5H439.3V1818.0H442.7V1817.5H446.1V1816.5H449.5V1817.0H452.9V1811.5H456.3V1812.5H459.7V1799.0H463.1V1784.0H466.5V1782.0H469.9V1797.5H473.3V1806.5H476.7V1813.0H480.1V1816.0H483.5V1818.5H486.9V1820.5H490.3V1819.5H493.7V1820.0H497.1V1818.0H500.5V1818.5H503.9V1816.5H507.3H510.7V1815.0H514.1H517.5V1818.5H520.9V1810.5H524.3V1780.5H527.7V1730.5H531.1V1760.5H534.5V1780.5H537.9V1794.5H541.3V1811.5H544.7V1816.5H548.1V1819.5H551.5V1816.0H554.9V1820.0H558.3V1819.5H561.7V1820.5H565.1V1815.0H568.5V1816.0H571.9V1815.0H575.3V1817.5H578.7V1819.5H582.1V1820.5H585.5V1819.5H588.9H592.3H595.7V1817.5H599.1V1819.0H602.5V1820.0H605.9V1812.5H609.3V1808.0H612.7V1805.5H616.1V1793.5H619.5V1780.5H622.9V1773.5H626.3V1774.0H629.7V1786.0H633.1V1794.0H636.5V1804.5H639.9V1810.5H643.3V1815.0H646.7V1817.5H650.1V1815.5H653.5V1820.0H656.9V1819.5H660.3V1816.5H663.7V1825.0H667.1V1823.0H670.5V1818.0H673.9V1820.5H677.3V1815.0H680.7V1822.5H684.1V1818.5H687.5V1817.5H690.9V1819.5H694.3V1818.0H697.7V1820.5H701.1V1821.5H704.5V1823.5H707.9V1820.5H711.3V1819.0H714.7V1821.5H718.1V1819.5H721.5V1820.0H724.9V1823.5H728.3V1820.5H731.7V1819.0H735.1V1822.5H738.5V1820.5H741.9V1822.5H745.3V1821.5H748.7V1820.5H752.1V1824.0H755.5V1821.0H758.9V1823.5H762.3V1820.5H765.7V1822.5H769.1H772.5V1821.0H775.9V1823.5H779.3H782.7V1820.5H786.1V1821.5H789.5V1821.0H792.9V1820.0H796.3V1822.0H799.7V1824.0H803.1V1821.0H806.5V1821.5H809.9V1818.5H813.3V1819.0H816.7V1820.0H820.1V1819.5H823.5H826.9V1821.0H830.3V1824.0H833.7V1819.0H837.1V1817.5H840.5V1815.5H843.9V1821.0H847.3V1815.0H850.7V1817.5H854.1V1820.5H857.5V1823.0H860.9V1827.0H864.3V1823.0H867.7V1821.5H871.1V1814.5H874.5V1824.0H877.9V1820.0H881.3H884.7V1821.5H888.1V1824.5H891.5V1819.5H894.9V1818.5H898.3V1819.5H901.7V1819.0H905.1V1821.0H908.5V1813.5H911.9V1806.0H915.3V1797.5H918.7V1780.5H922.1V1767.5H925.5V1763.5H928.9V1769.5H932.3V1784.5H935.7V1799.5H939.1V1805.0H942.5V1810.5H945.9V1818.5H949.3V1816.0H952.7V1822.0H956.1V1821.0H959.5V1821.5H962.9V1823.5H966.3V1821.5H969.7V1824.0H973.1V1823.5H976.5V1825.5H979.9V1824.5H983.3V1820.5H986.7V1821.0H990.1V1825.0H993.5V1824.5H996.9V1826.5H1000.3V1829.0H1003.7V1825.5H1007.1V1822.0H1010.5V1825.0H1013.9V1821.0H1017.3V1824.0H1020.7V1822.5H1024.1V1819.0H1027.5V1818.0H1030.9V1820.0H1034.3V1819.0H1037.7V1814.5H1041.1V1814.0H1044.5V1815.5H1047.9V1816.5H1051.3V1815.5H1054.7V1811.5H1058.1V1810.5H1061.5V1816.0H1064.9V1815.5H1068.3V1814.5H1071.7V1819.0H1075.1V1816.5H1078.5V1819.0H1081.9V1822.0H1085.3V1820.0H1088.7V1822.0H1092.1V1821.0H1095.5V1822.0H1098.9V1818.0H1102.3V1820.0H1105.7V1816.5H1109.1V1818.5H1112.5V1816.0H1115.9V1813.0H1119.3V1818.0H1122.7V1816.0H1126.1V1814.5H1129.5V1817.0H1132.9V1818.5H1136.3V1817.0H1139.7V1818.0H1143.1V1822.0H1146.5V1818.0H1149.9V1819.5H1153.3V1820.0H1156.7V1821.0H1160.1H1163.5V1823.0H1166.9V1822.5H1170.3V1823.5H1173.7V1824.5H1177.1V1822.5H1180.5V1821.5H1183.9V1816.5H1187.3V1822.0H1190.7V1821.5H1194.1V1821.0H1197.5V1818.5H1200.9V1820.5H1204.3V1818.5H1207.7V1823.5H1211.1V1822.5H1214.5V1818.5H1217.9V1820.5H1221.3V1818.5H1224.7V1813.5H1228.1V1817.0H1231.5V1815.0H1234.9V1816.5H1238.3V1821.5H1241.7V1821.0H1245.1V1817.5H1248.5V1824.0H1251.9V1821.0H1255.3V1822.0H1258.7V1824.5H1262.1V1821.0H1265.5V1827.0H1268.9V1825.0H1272.3V1828.5H1275.7V1825.0H1279.1V1825.5H1282.5V1824.5H1285.9V1823.0H1289.3V1824.0H1292.7V1825.5H1296.1V1826.5H1299.5V1825.0H1302.9V1826.0H1306.3V1821.5H1309.7V1825.0H1313.1V1823.5H1316.5V1824.0H1319.9V1826.5H1323.3V1828.0H1326.7V1823.5H1330.1V1826.0H1333.5V1824.0H1336.9V1825.5H1340.3V1821.5H1343.7V1819.5H1347.1V1822.0H1350.5V1827.0H1353.9V1825.0H1357.3V1826.0H1360.7V1822.5H1364.1V1823.5H1367.5V1824.5H1370.9V1819.5H1374.3V1822.0H1377.7V1824.0H1381.1V1820.5H1384.5V1821.5H1387.9V1817.0H1391.3V1816.5H1394.7V1816.0H1398.1V1813.5H1401.5V1813.0H1404.9V1809.5H1408.3V1813.5H1411.7V1818.5H1415.1V1817.0H1418.5V1815.0H1421.9V1815.5H1425.3V1820.5H1428.7V1818.0H1432.1H1435.5V1821.0H1438.9V1821.5H1442.3V1821.0H1445.7V1821.5H1449.1V1822.5H1452.5V1817.5H1455.9V1823.5H1459.3V1824.0H1462.7V1823.0H1466.1V1818.5H1469.5V1820.5H1472.9V1819.0H1476.3V1813.0H1479.7V1809.0H1483.1V1808.0H1486.5V1807.5H1489.9H1493.3V1808.0H1496.7V1809.5H1500.1V1811.0H1503.5V1815.5H1506.9V1819.0H1510.3V1815.0H1513.7V1820.5H1517.1V1821.5H1520.5V1818.5H1523.9H1527.3V1814.5H1530.7V1810.0H1534.1V1807.0H1537.5V1805.0H1540.9V1801.0H1544.3V1798.5H1547.7V1794.5H1551.1V1797.5H1554.5V1798.5H1557.9V1805.0H1561.3V1807.5H1564.7V1814.0H1568.1V1809.0H1571.5V1815.0H1574.9V1816.5H1578.3V1819.0H1581.7V1817.5H1585.1H1588.5V1820.0H1591.9V1825.5H1595.3V1823.5H1598.7V1821.0H1602.1V1821.5H1605.5V1822.0H1608.9V1824.0H1612.3V1821.0H1615.7V1825.5H1619.1V1822.0H1622.5V1823.0H1625.9V1826.5H1629.3V1825.5H1632.7V1822.0H1636.1V1820.5H1639.5V1826.0H1642.9V1825.5H1646.3V1819.0H1649.7V1822.0H1653.1V1823.5H1656.5V1825.5H1659.9V1824.0H1663.3V1825.0H1666.7V1824.5H1670.1H1673.5V1826.0H1676.9V1825.0H1680.3V1826.5H1683.7V1822.5H1687.1V1827.0H1690.5V1825.5H1693.9V1827.0H1697.3V1824.0H1700.7V1823.5H1704.1V1821.5H1707.5V1824.5H1710.9V1823.5H1714.3V1822.0H1717.7H1721.1V1823.5H1724.5V1824.0H1727.9V1822.0H1731.3V1819.5H1734.7V1818.5H1738.1V1821.5H1741.5V1822.0H1744.9H1748.3V1820.5H1751.7V1823.0H1755.1V1822.5H1758.5V1820.0H1761.9V1819.5H1765.3V1820.0H1768.7V1820.5H1772.1V1822.0H1775.5H1778.9V1821.0H1782.3V1821.5H1785.7V1824.0H1789.1V1823.5H1792.5V1820.0H1795.9V1822.0H1799.3V1816.5H1802.7V1819.0H1806.1V1813.5H1809.5V1814.0H1812.9V1811.0H1816.3V1814.0H1819.7V1816.5H1823.1V1812.0H1826.5V1813.5H1829.9V1815.0H1833.3V1816.5H1836.7V1813.0H1840.1V1815.5H1843.5V1816.0H1846.9V1816.5H1850.3V1817.0H1853.7V1813.0H1857.1V1817.5H1860.5V1813.0H1863.9V1811.0H1867.3V1810.0H1870.7V1810.5H1874.1V1807.0H1877.5V1801.5H1880.9H1884.3V1789.0H1887.7V1769.0H1891.1V1741.0H1894.5V1699.0H1897.9V1667.5H1901.3H1904.7H1908.1V1672.5H1911.5V1697.5H1914.9V1711.5H1918.3V1726.5H1921.7H1925.1V1741.0H1928.5V1755.0H1931.9V1764.5H1935.3V1781.0H1938.7V1789.0H1942.1V1799.0H1945.5V1803.5H1948.9V1808.0H1952.3V1806.5H1955.7V1806.0H1959.1V1811.0H1962.5V1803.5H1965.9V1798.0H1969.3V1789.5H1972.7V1792.0H1976.1V1793.5H1979.5V1794.0H1982.9V1807.5H1986.3V1810.0H1989.7V1813.0H1993.1V1818.5H1996.5V1819.5H1999.9V1823.0H2003.3V1817.0H2006.7V1819.5H2010.1V1817.5H2013.5V1818.5H2016.9V1821.0H2020.3V1823.5H2023.7V1826.5H2027.1V1821.0H2030.5V1821.5H2033.9V1824.5H2037.3V1818.5H2040.7V1819.0H2044.1V1820.5H2047.5V1821.5H2050.9V1820.5H2054.3V1819.0H2057.7V1822.0H2061.1V1821.5H2064.5V1824.5H2067.9V1821.5H2071.3V1821.0H2074.7V1819.0H2078.1V1820.0H2081.5V1819.5H2084.9V1817.0H2088.3H2091.7V1819.0H2095.1V1814.5H2098.5V1812.0H2101.9V1809.0H2105.3V1806.5H2108.7V1801.0H2112.1V1790.5H2115.5V1792.0H2118.9V1786.0H2122.3H2125.7V1789.5H2129.1V1792.0H2132.5V1793.0H2135.9V1798.5H2139.3V1805.5H2142.7V1801.0H2146.1V1808.5H2149.5V1809.5H2152.9V1812.5H2156.3H2159.7V1813.0H2163.1V1817.0H2166.5V1816.0H2169.9V1818.5H2173.3V1815.5H2176.7V1816.0H2180.1V1816.5H2183.5V1821.5H2186.9V1821.0H2190.3V1823.0H2193.7V1821.0H2197.1V1825.5H2200.5V1827.0H2203.9V1826.0H2207.3V1823.5H2210.7V1825.5H2214.1V1828.5H2217.5V1824.0H2220.9V1827.0H2224.3V1822.5H2227.7V1825.5H2231.1V1821.0H2234.5V1826.5H2237.9V1823.0H2241.3V1827.5H2244.7V1826.5H2248.1V1828.0H2251.5H2254.9V1824.5H2258.3V1826.0H2261.7V1828.0H2265.1V1825.5H2268.5V1822.5H2271.9H2275.3V1823.0H2278.7V1819.5H2282.1V1817.5H2285.5V1814.0H2288.9H2292.3V1809.0H2295.7V1815.5H2299.1V1818.0H2302.5V1824.0H2305.9V1822.5H2309.3V1825.5H2312.7V1825.0H2316.1V1827.5H2319.5V1831.5H2322.9V1834.0H2326.3V1829.0H2329.7H2333.1H2334.5" stroke="#820000" stroke-width="6.2"/>
<path d="M269.3,1971.0H272.7V1965.5H276.1V1961.0H279.5V1946.5H282.9V1943.0H286.3V1941.0H289.7V1940.0H293.1V1937.5H296.5V1946.5H299.9V1951.5H303.3V1956.5H306.7V1960.5H310.1V1964.5H313.5V1968.0H316.9H320.3V1973.5H323.7H327.1V1979.5H330.5V1978.0H333.9V1977.5H337.3V1976.5H340.7V1969.5H344.1V1982.0H347.5H350.9V1977.5H354.3V1977.0H357.7H361.1V1980.5H364.5V1976.5H367.9V1970.5H371.3V1975.5H374.7V1974.5H378.1V1980.0H381.5V1981.0H384.9V1973.5H388.3V1971.0H391.7V1978.0H395.1V1971.5H398.5V1976.0H401.9V1969.5H405.3V1969.0H408.7V1968.5H412.1V1966.0H415.5V1972.5H418.9V1971.0H422.3V1972.0H425.7V1972.5H429.1V1978.0H432.5V1977.5H435.9V1979.5H439.3V1977.0H442.7V1969.0H446.1V1973.5H449.5V1972.0H452.9V1970.5H456.3V1965.5H459.7V1952.0H463.1V1948.0H466.5V1935.5H469.9V1941.0H473.3V1947.5H476.7V1958.0H480.1V1965.0H483.5V1969.0H486.9V1975.0H490.3V1970.5H493.7V1979.0H497.1V1974.5H500.5V1976.5H503.9V1971.0H507.3V1974.0H510.7V1972.5H514.1V1969.0H517.5V1969.5H520.9V1967.0H524.3V1967.5H527.7V1968.5H531.1V1969.5H534.5V1970.0H537.9V1971.0H541.3V1972.0H544.7V1975.0H548.1V1974.0H551.5V1977.0H554.9V1976.5H558.3V1981.5H561.7V1977.5H565.1V1981.5H568.5V1976.5H571.9V1974.5H575.3V1982.0H578.7V1977.5H582.1V1974.0H585.5H588.9V1973.0H592.3V1971.5H595.7V1972.0H599.1V1974.0H602.5V1968.0H605.9V1970.0H609.3V1961.5H612.7V1956.5H616.1V1940.0H619.5V1922.0H622.9V1910.0H626.3V1906.5H629.7V1924.0H633.1V1941.5H636.5V1949.0H639.9V1958.0H643.3V1972.5H646.7V1975.0H650.1V1972.5H653.5V1977.0H656.9V1975.5H660.3V1969.5H663.7V1977.5H667.1V1978.0H670.5V1976.5H673.9V1977.0H677.3V1976.0H680.7V1973.0H684.1V1978.5H687.5V1973.0H690.9V1969.5H694.3V1975.0H697.7V1979.5H701.1V1973.5H704.5V1977.5H707.9V1984.0H711.3V1980.0H714.7V1978.0H718.1V1978.5H721.5V1980.5H724.9V1984.5H728.3V1983.0H731.7V1984.5H735.1V1987.0H738.5V1983.5H741.9V1982.5H745.3V1984.0H748.7V1983.5H752.1V1980.0H755.5H758.9V1983.0H762.3V1984.5H765.7V1988.5H769.1V1980.5H772.5V1986.0H775.9V1984.5H779.3V1986.0H782.7V1983.5H786.1V1979.0H789.5V1982.5H792.9V1988.0H796.3V1983.0H799.7V1986.0H803.1V1982.0H806.5V1987.5H809.9V1986.5H813.3V1987.0H816.7V1984.0H820.1H823.5V1986.5H826.9V1983.0H830.3V1983.5H833.7V1983.0H837.1V1977.0H840.5V1989.0H843.9V1983.5H847.3V1985.5H850.7V1977.0H854.1V1985.5H857.5V1982.0H860.9V1982.5H864.3H867.7V1981.0H871.1V1986.5H874.5V1988.5H877.9V1982.0H881.3V1981.5H884.7H888.1V1984.5H891.5V1978.0H894.9V1981.0H898.3V1981.5H901.7V1975.5H905.1V1972.5H908.5V1973.0H911.9V1960.5H915.3V1942.5H918.7V1925.0H922.1V1906.5H925.5V1893.0H928.9V1898.5H932.3V1915.0H935.7V1934.0H939.1V1953.0H942.5V1967.5H945.9V1973.0H949.3V1972.0H952.7V1980.5H956.1V1977.0H959.5V1980.5H962.9V1980.0H966.3V1982.0H969.7V1978.0H973.1V1983.5H976.5V1982.5H979.9V1979.0H983.3V1974.5H986.7V1980.5H990.1V1983.0H993.5V1981.0H996.9V1980.5H1000.3V1983.5H1003.7V1980.0H1007.1V1985.5H1010.5V1980.5H1013.9V1985.0H1017.3V1981.5H1020.7V1978.5H1024.1V1981.0H1027.5V1980.0H1030.9V1982.5H1034.3V1974.5H1037.7V1980.5H1041.1V1975.5H1044.5V1972.0H1047.9V1975.0H1051.3V1972.0H1054.7V1974.0H1058.1V1971.5H1061.5V1971.0H1064.9V1968.5H1068.3V1974.0H1071.7V1972.0H1075.1V1970.5H1078.5V1969.5H1081.9V1972.5H1085.3V1971.0H1088.7V1970.0H1092.1V1971.0H1095.5V1968.0H1098.9V1972.5H1102.3V1966.0H1105.7V1960.0H1109.1V1955.0H1112.5V1949.5H1115.9V1947.5H1119.3V1946.5H1122.7V1952.0H1126.1V1961.5H1129.5V1962.5H1132.9V1964.5H1136.3V1967.0H1139.7V1970.0H1143.1V1971.5H1146.5V1975.0H1149.9V1969.5H1153.3V1972.5H1156.7V1970.5H1160.1H1163.5V1977.0H1166.9V1979.0H1170.3V1975.0H1173.7V1982.0H1177.1V1988.0H1180.5V1986.5H1183.9V1989.5H1187.3V1984.0H1190.7V1990.5H1194.1V1983.5H1197.5V1987.5H1200.9V1984.5H1204.3V1982.5H1207.7V1985.5H1211.1V1987.0H1214.5V1983.0H1217.9V1980.5H1221.3V1981.5H1224.7V1982.0H1228.1V1979.0H1231.5V1977.5H1234.9V1974.5H1238.3H1241.7V1972.5H1245.1V1977.0H1248.5V1978.0H1251.9V1983.0H1255.3V1983.5H1258.7V1989.5H1262.1V1990.5H1265.5V1992.5H1268.9V1988.5H1272.3V1989.5H1275.7V1988.5H1279.1H1282.5V1989.0H1285.9V1987.0H1289.3V1990.5H1292.7V1993.0H1296.1V1991.5H1299.5V1988.5H1302.9V1993.5H1306.3V1990.0H1309.7V1989.5H1313.1V1993.5H1316.5H1319.9V1988.5H1323.3V1985.5H1326.7V1991.5H1330.1V1986.0H1333.5V1990.5H1336.9V1991.5H1340.3H1343.7V1991.0H1347.1V1990.0H1350.5V1987.5H1353.9H1357.3V1989.0H1360.7V1985.0H1364.1V1986.5H1367.5V1981.0H1370.9V1982.0H1374.3V1982.5H1377.7V1976.0H1381.1V1978.5H1384.5V1973.0H1387.9V1971.0H1391.3V1968.0H1394.7V1965.0H1398.1V1963.0H1401.5V1963.5H1404.9H1408.3V1966.5H1411.7H1415.1V1970.5H1418.5V1976.0H1421.9V1970.0H1425.3V1979.0H1428.7V1976.0H1432.1V1978.0H1435.5V1981.0H1438.9H1442.3V1979.5H1445.7V1972.0H1449.1V1977.5H1452.5V1979.0H1455.9V1975.0H1459.3V1977.0H1462.7V1980.5H1466.1V1973.5H1469.5V1974.0H1472.9V1969.0H1476.3H1479.7V1972.0H1483.1V1962.0H1486.5H1489.9V1958.5H1493.3V1959.5H1496.7V1962.0H1500.1V1967.0H1503.5V1963.5H1506.9V1974.0H1510.3V1976.5H1513.7V1970.5H1517.1V1968.5H1520.5V1964.0H1523.9V1973.5H1527.3V1965.5H1530.7V1958.5H1534.1V1957.0H1537.5V1949.5H1540.9V1944.0H1544.3V1937.0H1547.7V1930.0H1551.1V1925.5H1554.5V1928.0H1557.9V1940.0H1561.3V1942.5H1564.7V1949.5H1568.1V1956.0H1571.5V1964.0H1574.9V1969.5H1578.3V1978.0H1581.7V1975.0H1585.1V1983.5H1588.5V1981.5H1591.9V1990.5H1595.3V1986.5H1598.7V1988.0H1602.1V1985.5H1605.5V1986.0H1608.9V1986.5H1612.3V1985.0H1615.7V1988.0H1619.1V1990.0H1622.5V1985.0H1625.9V1983.5H1629.3V1986.5H1632.7V1987.5H1636.1V1988.5H1639.5V1987.0H1642.9V1985.0H1646.3V1990.5H1649.7V1987.5H1653.1V1989.5H1656.5V1987.5H1659.9V1991.0H1663.3V1986.0H1666.7V1986.5H1670.1V1983.5H1673.5V1988.0H1676.9V1991.5H1680.3V1985.5H1683.7V1984.5H1687.1V1989.5H1690.5V1982.5H1693.9V1989.0H1697.3V1984.5H1700.7V1983.5H1704.1V1984.5H1707.5V1984.0H1710.9V1981.0H1714.3V1977.0H1717.7V1973.0H1721.1V1978.0H1724.5V1969.0H1727.9V1971.0H1731.3V1974.5H1734.7V1976.0H1738.1V1977.0H1741.5V1977.5H1744.9V1975.0H1748.3V1978.5H1751.7V1975.0H1755.1V1980.0H1758.5V1976.5H1761.9V1980.5H1765.3V1978.0H1768.7V1974.0H1772.1V1976.0H1775.5V1974.0H1778.9V1972.0H1782.3V1971.0H1785.7V1965.5H1789.1V1967.5H1792.5V1971.0H1795.9V1970.0H1799.3V1969.5H1802.7V1975.5H1806.1V1971.0H1809.5V1968.5H1812.9V1971.5H1816.3V1974.0H1819.7V1969.0H1823.1V1968.5H1826.5V1972.0H1829.9V1972.5H1833.3V1970.0H1836.7H1840.1V1968.5H1843.5V1969.5H1846.9V1971.5H1850.3H1853.7V1976.5H1857.1H1860.5V1975.5H1863.9V1973.0H1867.3V1966.0H1870.7V1969.0H1874.1V1964.0H1877.5V1961.0H1880.9V1950.0H1884.3V1940.0H1887.7V1928.5H1891.1V1904.5H1894.5V1883.5H1897.9V1861.0H1901.3V1859.5H1904.7V1865.0H1908.1V1877.5H1911.5V1886.5H1914.9V1886.0H1918.3V1881.0H1921.7V1864.0H1925.1V1845.5H1928.5V1843.0H1931.9H1935.3H1938.7V1846.0H1942.1V1861.0H1945.5V1886.5H1948.9V1901.0H1952.3V1916.5H1955.7V1923.5H1959.1V1938.5H1962.5V1944.0H1965.9H1969.3V1949.0H1972.7H1976.1V1943.0H1979.5V1944.0H1982.9V1948.0H1986.3V1955.5H1989.7V1952.5H1993.1V1958.0H1996.5V1959.0H1999.9V1963.0H2003.3V1964.0H2006.7V1967.0H2010.1V1969.0H2013.5V1971.0H2016.9V1968.5H2020.3V1976.5H2023.7V1975.5H2027.1V1971.0H2030.5V1974.0H2033.9V1974.5H2037.3V1973.5H2040.7V1975.0H2044.1V1974.0H2047.5V1973.0H2050.9V1970.5H2054.3V1970.0H2057.7V1972.5H2061.1V1970.0H2064.5V1974.0H2067.9V1969.5H2071.3V1973.0H2074.7V1969.5H2078.1V1972.5H2081.5V1971.0H2084.9V1966.5H2088.3V1972.5H2091.7V1967.5H2095.1V1968.5H2098.5V1963.5H2101.9V1951.0H2105.3V1945.5H2108.7V1934.0H2112.1V1925.0H2115.5V1912.0H2118.9V1907.0H2122.3V1903.5H2125.7V1897.5H2129.1V1908.0H2132.5V1913.5H2135.9V1924.0H2139.3V1926.0H2142.7V1937.0H2146.1V1943.0H2149.5V1951.0H2152.9V1963.5H2156.3V1958.0H2159.7V1965.5H2163.1V1968.5H2166.5V1970.5H2169.9V1976.0H2173.3V1977.5H2176.7V1979.5H2180.1V1982.5H2183.5V1987.5H2186.9V1986.0H2190.3V1984.5H2193.7V1986.5H2197.1V1991.0H2200.5V1992.0H2203.9V1990.5H2207.3V1986.0H2210.7V1991.0H2214.1V1988.5H2217.5V1986.0H2220.9V1989.0H2224.3H2227.7V1991.0H2231.1V1987.0H2234.5V1988.5H2237.9V1993.5H2241.3V1992.0H2244.7V1990.0H2248.1V1989.0H2251.5H2254.9V1995.0H2258.3V1990.5H2261.7V1991.5H2265.1V1985.5H2268.5V1991.0H2271.9V1988.0H2275.3V1994.0H2278.7V1991.0H2282.1V1987.5H2285.5V1990.0H2288.9V1989.5H2292.3V1994.5H2295.7V1991.0H2299.1V1989.5H2302.5V1990.5H2305.9V1994.5H2309.3V1998.5H2312.7V1992.5H2316.1V1983.0H2319.5V1990.5H2322.9V1991.5H2326.3V1986.5H2329.7V1988.5H2333.1V1990.5H2334.5" stroke="#00007c" stroke-width="6.8"/>
</g>
<g id="frame" stroke="#000" fill="none">
<line x1="240" y1="424.8" x2="2339" y2="424.8" stroke-width="6.5"/>
<line x1="240" y1="600.1" x2="2339" y2="600.1" stroke-width="6.5"/>
<line x1="240" y1="778.5" x2="2339" y2="778.5" stroke-width="6.5"/>
<line x1="240" y1="953.8" x2="2339" y2="953.8" stroke-width="6.5"/>
<line x1="240" y1="1132.9" x2="2339" y2="1132.9" stroke-width="6.5"/>
<line x1="240" y1="1308.2" x2="2339" y2="1308.2" stroke-width="6.5"/>
<line x1="240" y1="1483.9" x2="2339" y2="1483.9" stroke-width="6.5"/>
<line x1="240" y1="1662.8" x2="2339" y2="1662.8" stroke-width="6.5"/>
<line x1="240" y1="1838.4" x2="2339" y2="1838.4" stroke-width="6.5"/>
<g stroke-width="5.6">
<line x1="240" y1="284.3" x2="266.4" y2="284.3"/>
<line x1="240" y1="320" x2="266.4" y2="320"/>
<line x1="240" y1="355.7" x2="266.4" y2="355.7"/>
<line x1="240" y1="392.7" x2="266.4" y2="392.7"/>
<line x1="240" y1="460.6" x2="266.4" y2="460.6"/>
<line x1="240" y1="496.3" x2="266.4" y2="496.3"/>
<line x1="240" y1="531.7" x2="266.4" y2="531.7"/>
<line x1="240" y1="567.4" x2="266.4" y2="567.4"/>
<line x1="240" y1="635" x2="266.4" y2="635"/>
<line x1="240" y1="671.7" x2="266.4" y2="671.7"/>
<line x1="240" y1="708" x2="266.4" y2="708"/>
<line x1="240" y1="745.6" x2="266.4" y2="745.6"/>
<line x1="240" y1="813.9" x2="266.4" y2="813.9"/>
<line x1="240" y1="849.6" x2="266.4" y2="849.6"/>
<line x1="240" y1="886.2" x2="266.4" y2="886.2"/>
<line x1="240" y1="921.6" x2="266.4" y2="921.6"/>
<line x1="240" y1="1012.6" x2="266.4" y2="1012.6"/>
<line x1="240" y1="1073.9" x2="266.4" y2="1073.9"/>
<line x1="240" y1="1180.7" x2="266.4" y2="1180.7"/>
<line x1="240" y1="1247" x2="266.4" y2="1247"/>
<line x1="240" y1="1349.7" x2="266.4" y2="1349.7"/>
<line x1="240" y1="1418.3" x2="266.4" y2="1418.3"/>
<line x1="240" y1="1519.4" x2="266.4" y2="1519.4"/>
<line x1="240" y1="1555.4" x2="266.4" y2="1555.4"/>
<line x1="240" y1="1591.1" x2="266.4" y2="1591.1"/>
<line x1="240" y1="1630" x2="266.4" y2="1630"/>
<line x1="240" y1="1673" x2="266.4" y2="1673"/>
<line x1="240" y1="1715.3" x2="266.4" y2="1715.3"/>
<line x1="240" y1="1757" x2="266.4" y2="1757"/>
<line x1="240" y1="1799" x2="266.4" y2="1799"/>
<line x1="240" y1="1886.6" x2="266.4" y2="1886.6"/>
<line x1="240" y1="1952" x2="266.4" y2="1952"/>
<line x1="240" y1="2017" x2="266.4" y2="2017"/>
</g>
<g stroke-width="5.8">
<line x1="265.37" y1="2028.2" x2="265.37" y2="2048.6"/>
<line x1="359.5" y1="2028.2" x2="359.5" y2="2075.6"/>
<line x1="453.63" y1="2028.2" x2="453.63" y2="2048.6"/>
<line x1="547.77" y1="2028.2" x2="547.77" y2="2048.6"/>
<line x1="641.9" y1="2028.2" x2="641.9" y2="2048.6"/>
<line x1="736.04" y1="2028.2" x2="736.04" y2="2048.6"/>
<line x1="830.17" y1="2028.2" x2="830.17" y2="2075.6"/>
<line x1="924.31" y1="2028.2" x2="924.31" y2="2048.6"/>
<line x1="1018.45" y1="2028.2" x2="1018.45" y2="2048.6"/>
<line x1="1112.58" y1="2028.2" x2="1112.58" y2="2048.6"/>
<line x1="1206.72" y1="2028.2" x2="1206.72" y2="2048.6"/>
<line x1="1300.85" y1="2028.2" x2="1300.85" y2="2075.6"/>
<line x1="1394.99" y1="2028.2" x2="1394.99" y2="2048.6"/>
<line x1="1489.12" y1="2028.2" x2="1489.12" y2="2048.6"/>
<line x1="1583.26" y1="2028.2" x2="1583.26" y2="2048.6"/>
<line x1="1677.39" y1="2028.2" x2="1677.39" y2="2048.6"/>
<line x1="1771.53" y1="2028.2" x2="1771.53" y2="2075.6"/>
<line x1="1865.66" y1="2028.2" x2="1865.66" y2="2048.6"/>
<line x1="1959.8" y1="2028.2" x2="1959.8" y2="2048.6"/>
<line x1="2053.93" y1="2028.2" x2="2053.93" y2="2048.6"/>
<line x1="2148.07" y1="2028.2" x2="2148.07" y2="2048.6"/>
<line x1="2242.2" y1="2028.2" x2="2242.2" y2="2075.6"/>
<line x1="2336.34" y1="2028.2" x2="2336.34" y2="2048.6"/>
</g>
<path d="M262.2,250.9 H2344" stroke-width="8.6"/>
<path d="M262.2,2028.6 H2344" stroke-width="8.8"/>
<path d="M266.6,250.2 V2028.2" stroke-width="8.8"/>
<path d="M2339,250.2 V2028.2" stroke-width="10"/>
</g>
<g id="panel-labels" font-size="57.4" stroke="#fff" stroke-width="0.5" stroke-linejoin="round">
<text transform="translate(279.6,295.8) scale(0.93,1)">5s</text>
<text transform="translate(279.6,474.2) scale(0.93,1)">60s</text>
<text transform="translate(279.6,649.6) scale(0.93,1)">300s</text>
<text transform="translate(279.6,828.2) scale(0.93,1)">420s</text>
<text transform="translate(279.6,1004) scale(0.93,1)">540s</text>
<text transform="translate(279.6,1182.4) scale(0.93,1)">660s</text>
<text transform="translate(279.6,1357.8) scale(0.93,1)">720s</text>
<text transform="translate(279.6,1533.8) scale(0.93,1)">900s</text>
<text transform="translate(279.6,1712.6) scale(0.93,1)">1200s</text>
<text transform="translate(279.6,1884.8) scale(0.93,1)">1800s</text>
</g>
<g id="xticks" text-anchor="middle" font-size="58" stroke="#fff" stroke-width="0.5" stroke-linejoin="round">
<text x="359.8" y="2122.2">25</text>
<text x="829.7" y="2122.2">30</text>
<text x="1299.7" y="2122.2">35</text>
<text x="1773" y="2122.2">40</text>
<text x="2242.2" y="2122.2">45</text>
</g>
<g id="reference-lines" fill="none" stroke-width="5.6" stroke-dasharray="21.2 15.25">
<line x1="296.8" y1="224.6" x2="296.7" y2="2032" stroke="#385723"/>
<line x1="392.1" y1="238.4" x2="392.2" y2="2037.5" stroke="#ff7c80" stroke-dashoffset="5"/>
<line x1="471.4" y1="222.7" x2="471.2" y2="2030" stroke="#ff0000"/>
<line x1="533.6" y1="237.6" x2="533" y2="2035" stroke="#ff7c80" stroke-dashoffset="10.3"/>
<line x1="627.92" y1="227.3" x2="626.39" y2="2035" stroke="#0070c0"/>
<line x1="841.31" y1="238.4" x2="839.69" y2="2037" stroke="#ff7c80" stroke-dashoffset="8.1"/>
<line x1="928.73" y1="230.3" x2="926.29" y2="2037" stroke="#ff0000"/>
<line x1="1053.84" y1="225.1" x2="1051.19" y2="2033" stroke="#ff0000"/>
<line x1="1108.2" y1="250.1" x2="1105.71" y2="2022" stroke="#385723"/>
<line x1="1151.9" y1="228.2" x2="1152" y2="2035" stroke="#ff0000"/>
<line x1="1236.04" y1="222.1" x2="1233.7" y2="2030" stroke="#ff0000"/>
<line x1="1396.4" y1="230.3" x2="1396.7" y2="2037" stroke="#385723"/>
<line x1="1489.5" y1="222.7" x2="1489.2" y2="2030" stroke="#0070c0"/>
<line x1="1551.2" y1="249.5" x2="1549.21" y2="2020.6" stroke="#548235"/>
<line x1="1597.7" y1="251.3" x2="1595.66" y2="2062" stroke="#a9d18e"/>
<line x1="1820.72" y1="227.3" x2="1818.89" y2="2035" stroke="#a9d18e"/>
<line x1="1903.33" y1="230.3" x2="1900.49" y2="2037" stroke="#ff0000"/>
<line x1="1976.53" y1="228.8" x2="1973.79" y2="2035" stroke="#4472c4"/>
<line x1="2044.62" y1="236" x2="2041.99" y2="2035" stroke="#ff7c80" stroke-dashoffset="8.7"/>
<line x1="2127.7" y1="252.6" x2="2126.5" y2="2023.7" stroke="#548235"/>
<line x1="2178.4" y1="251.3" x2="2175.45" y2="2060" stroke="#a9d18e"/>
<line x1="2297.42" y1="235" x2="2295.49" y2="2033" stroke="#ff7c80" stroke-dashoffset="9.9"/>
</g>
<line x1="1938.6" y1="221" x2="1938.6" y2="2034" stroke="#bfbfbf" stroke-width="5.6"/>
<g id="markers">
<rect x="277.9" y="189.65" width="32.6" height="16.3" fill="#385723" stroke="#41719c" stroke-width="5.6"/><rect x="277.9" y="214.25" width="32.6" height="16.3" fill="#385723" stroke="#41719c" stroke-width="5.6"/>
<polygon points="390.6,198.6 406.1,182.5 418.3,194.7 402.2,210.2 418.3,225.7 406.1,237.9 390.6,221.8 375.1,237.9 362.9,225.7 379,210.2 362.9,194.7 375.1,182.5" fill="#ff7c80" stroke="#41719c" stroke-width="5.2" stroke-linejoin="miter"/>
<circle cx="468.3" cy="209.8" r="22.8" fill="#ff0000" stroke="#41719c" stroke-width="4.8"/>
<polygon points="531.6,198.6 547.1,182.5 559.3,194.7 543.2,210.2 559.3,225.7 547.1,237.9 531.6,221.8 516.1,237.9 503.9,225.7 520,210.2 503.9,194.7 516.1,182.5" fill="#ff7c80" stroke="#41719c" stroke-width="5.2" stroke-linejoin="miter"/>
<polygon points="628,181.5 634.85,203.88 657,203.88 639.08,217.72 645.92,240.1 628,226.27 610.08,240.1 616.92,217.72 599,203.88 621.15,203.88" fill="#5b9bd5" stroke="#41719c" stroke-width="5.2" stroke-linejoin="miter"/>
<polygon points="839,198.6 854.5,182.5 866.7,194.7 850.6,210.2 866.7,225.7 854.5,237.9 839,221.8 823.5,237.9 811.3,225.7 827.4,210.2 811.3,194.7 823.5,182.5" fill="#ff7c80" stroke="#41719c" stroke-width="5.2" stroke-linejoin="miter"/>
<circle cx="924.6" cy="209.8" r="22.8" fill="#ff0000" stroke="#41719c" stroke-width="4.8"/>
<circle cx="1049.7" cy="209.8" r="22.8" fill="#ff0000" stroke="#41719c" stroke-width="4.8"/>
<rect x="1092" y="189.65" width="32.6" height="16.3" fill="#385723" stroke="#41719c" stroke-width="5.6"/><rect x="1092" y="214.25" width="32.6" height="16.3" fill="#385723" stroke="#41719c" stroke-width="5.6"/>
<circle cx="1161.1" cy="209.8" r="22.8" fill="#ff0000" stroke="#41719c" stroke-width="4.8"/>
<circle cx="1236.4" cy="209.8" r="22.8" fill="#ff0000" stroke="#41719c" stroke-width="4.8"/>
<rect x="1379.2" y="189.65" width="32.6" height="16.3" fill="#385723" stroke="#41719c" stroke-width="5.6"/><rect x="1379.2" y="214.25" width="32.6" height="16.3" fill="#385723" stroke="#41719c" stroke-width="5.6"/>
<polygon points="1486.6,182 1493.09,203.39 1514.1,203.39 1497.11,216.61 1503.6,238 1486.6,224.78 1469.6,238 1476.09,216.61 1459.1,203.39 1480.11,203.39" fill="#5b9bd5" stroke="#41719c" stroke-width="5.2" stroke-linejoin="miter"/>
<polygon points="1533.3,173.6 1550.6,190.4 1567.9,173.6 1567.9,210.3 1585.1,210.3 1550.6,244.6 1516.1,210.3 1533.3,210.3" fill="#385723" stroke="#41719c" stroke-width="5.2" stroke-linejoin="miter"/>
<polygon points="1581.5,173.6 1598.8,190.4 1616.1,173.6 1616.1,210.3 1633.3,210.3 1598.8,244.6 1564.3,210.3 1581.5,210.3" fill="#a9d18e" stroke="#41719c" stroke-width="5.2" stroke-linejoin="miter"/>
<polygon points="1808.3,178.8 1829.5,178.8 1829.5,198.2 1848.9,198.2 1848.9,219.4 1829.5,219.4 1829.5,238.8 1808.3,238.8 1808.3,219.4 1788.9,219.4 1788.9,198.2 1808.3,198.2" fill="#e2f0d9" stroke="#41719c" stroke-width="5.5" stroke-linejoin="miter"/>
<circle cx="1900" cy="218.6" r="22.8" fill="#ff0000" stroke="#41719c" stroke-width="4.8"/>
<polygon points="1905.3,160 1967,160 1936.15,219" fill="#fff" stroke="#0070c0" stroke-width="5.5" stroke-linejoin="miter"/>
<polygon points="1981,190.5 1987.32,211.7 2007.75,211.7 1991.22,224.8 1997.53,246 1981,232.9 1964.47,246 1970.78,224.8 1954.25,211.7 1974.68,211.7" fill="#5b9bd5" stroke="#41719c" stroke-width="5.2" stroke-linejoin="miter"/>
<polygon points="2048.2,198.6 2063.7,182.5 2075.9,194.7 2059.8,210.2 2075.9,225.7 2063.7,237.9 2048.2,221.8 2032.7,237.9 2020.5,225.7 2036.6,210.2 2020.5,194.7 2032.7,182.5" fill="#ff7c80" stroke="#41719c" stroke-width="5.2" stroke-linejoin="miter"/>
<polygon points="2111,173.6 2128.3,190.4 2145.6,173.6 2145.6,210.3 2162.8,210.3 2128.3,244.6 2093.8,210.3 2111,210.3" fill="#548235" stroke="#41719c" stroke-width="5.2" stroke-linejoin="miter"/>
<polygon points="2161.5,173.6 2178.8,190.4 2196.1,173.6 2196.1,210.3 2213.3,210.3 2178.8,244.6 2144.3,210.3 2161.5,210.3" fill="#a9d18e" stroke="#41719c" stroke-width="5.2" stroke-linejoin="miter"/>
<polygon points="2296.8,198.6 2312.3,182.5 2324.5,194.7 2308.4,210.2 2324.5,225.7 2312.3,237.9 2296.8,221.8 2281.3,237.9 2269.1,225.7 2285.2,210.2 2269.1,194.7 2281.3,182.5" fill="#ff7c80" stroke="#41719c" stroke-width="5.2" stroke-linejoin="miter"/>
</g>
<g id="axis-titles" font-size="133" stroke="#000" stroke-width="0.7" stroke-linejoin="round">
<text transform="translate(0,2258.6) scale(0.958,1)"><tspan x="845.93">2 </tspan><tspan x="953.03">Theta </tspan><tspan x="1342.07">(Degree)</tspan></text>
<text transform="translate(141.3,1588.1) rotate(-90) scale(1.01,1)"><tspan x="-9.01">Intensity </tspan><tspan x="525.45">(a. </tspan><tspan x="708.22">u.)</tspan></text>
</g>
</g>
</svg>
</body></html>
